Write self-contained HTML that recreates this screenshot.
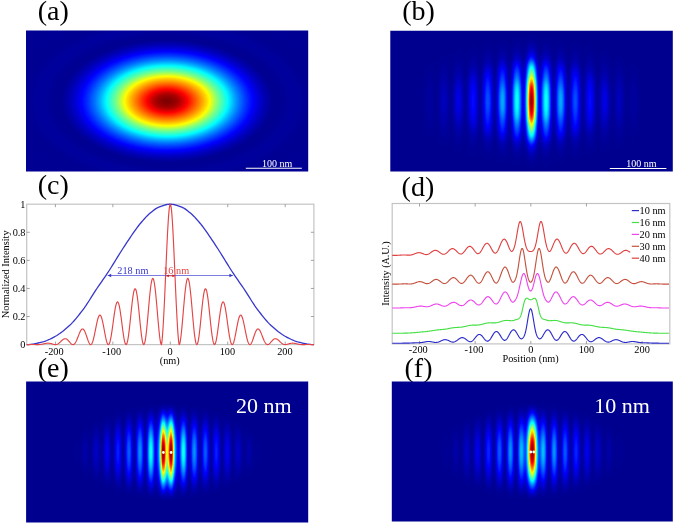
<!DOCTYPE html>
<html><head><meta charset="utf-8"><title>figure</title>
<style>html,body{margin:0;padding:0;background:#fff}svg{display:block}text{font-family:"Liberation Serif",serif}</style></head>
<body>
<svg width="675" height="525" viewBox="0 0 675 525">
<defs>
<filter id="jet" x="0" y="0" width="1" height="1" filterUnits="objectBoundingBox" color-interpolation-filters="sRGB"><feComponentTransfer><feFuncR type="table" tableValues="0 0 0 0 0 0 0 0 0 0 0 0 0 0 0 0 0 0 0 0 0 0 0 0 0.0625 0.125 0.1875 0.25 0.3125 0.375 0.4375 0.5 0.5625 0.625 0.6875 0.75 0.8125 0.875 0.9375 1 1 1 1 1 1 1 1 1 1 1 1 1 1 1 1 1 0.9375 0.875 0.8125 0.75 0.6875 0.625 0.5625 0.5"/><feFuncG type="table" tableValues="0 0 0 0 0 0 0 0 0.0625 0.125 0.1875 0.25 0.3125 0.375 0.4375 0.5 0.5625 0.625 0.6875 0.75 0.8125 0.875 0.9375 1 1 1 1 1 1 1 1 1 1 1 1 1 1 1 1 1 0.9375 0.875 0.8125 0.75 0.6875 0.625 0.5625 0.5 0.4375 0.375 0.3125 0.25 0.1875 0.125 0.0625 0 0 0 0 0 0 0 0 0"/><feFuncB type="table" tableValues="0.5625 0.625 0.6875 0.75 0.8125 0.875 0.9375 1 1 1 1 1 1 1 1 1 1 1 1 1 1 1 1 1 0.9375 0.875 0.8125 0.75 0.6875 0.625 0.5625 0.5 0.4375 0.375 0.3125 0.25 0.1875 0.125 0.0625 0 0 0 0 0 0 0 0 0 0 0 0 0 0 0 0 0 0 0 0 0 0 0 0 0"/></feComponentTransfer></filter>
<linearGradient id="gxa" gradientUnits="userSpaceOnUse" x1="26" y1="0" x2="308.2" y2="0"><stop offset="0%" stop-color="#ffffff"/><stop offset="100%" stop-color="#ffffff"/></linearGradient>
<radialGradient id="gra" gradientUnits="userSpaceOnUse" cx="0" cy="0" r="170" gradientTransform="translate(167.1 101.1) scale(1 0.58)"><stop offset="0%" stop-color="#000" stop-opacity="0"/><stop offset="0.59%" stop-color="#000" stop-opacity="0"/><stop offset="1.18%" stop-color="#000" stop-opacity="0.002"/><stop offset="1.76%" stop-color="#000" stop-opacity="0.004"/><stop offset="2.35%" stop-color="#000" stop-opacity="0.007"/><stop offset="2.94%" stop-color="#000" stop-opacity="0.01"/><stop offset="3.53%" stop-color="#000" stop-opacity="0.014"/><stop offset="4.12%" stop-color="#000" stop-opacity="0.018"/><stop offset="4.71%" stop-color="#000" stop-opacity="0.023"/><stop offset="5.29%" stop-color="#000" stop-opacity="0.027"/><stop offset="5.88%" stop-color="#000" stop-opacity="0.032"/><stop offset="6.47%" stop-color="#000" stop-opacity="0.038"/><stop offset="7.06%" stop-color="#000" stop-opacity="0.045"/><stop offset="7.65%" stop-color="#000" stop-opacity="0.053"/><stop offset="8.24%" stop-color="#000" stop-opacity="0.063"/><stop offset="8.82%" stop-color="#000" stop-opacity="0.073"/><stop offset="9.41%" stop-color="#000" stop-opacity="0.083"/><stop offset="10%" stop-color="#000" stop-opacity="0.094"/><stop offset="10.59%" stop-color="#000" stop-opacity="0.105"/><stop offset="11.18%" stop-color="#000" stop-opacity="0.115"/><stop offset="11.76%" stop-color="#000" stop-opacity="0.125"/><stop offset="12.35%" stop-color="#000" stop-opacity="0.135"/><stop offset="12.94%" stop-color="#000" stop-opacity="0.146"/><stop offset="13.53%" stop-color="#000" stop-opacity="0.157"/><stop offset="14.12%" stop-color="#000" stop-opacity="0.168"/><stop offset="14.71%" stop-color="#000" stop-opacity="0.179"/><stop offset="15.29%" stop-color="#000" stop-opacity="0.19"/><stop offset="15.88%" stop-color="#000" stop-opacity="0.201"/><stop offset="16.47%" stop-color="#000" stop-opacity="0.212"/><stop offset="17.06%" stop-color="#000" stop-opacity="0.224"/><stop offset="17.65%" stop-color="#000" stop-opacity="0.235"/><stop offset="18.24%" stop-color="#000" stop-opacity="0.246"/><stop offset="18.82%" stop-color="#000" stop-opacity="0.257"/><stop offset="19.41%" stop-color="#000" stop-opacity="0.268"/><stop offset="20%" stop-color="#000" stop-opacity="0.279"/><stop offset="20.59%" stop-color="#000" stop-opacity="0.29"/><stop offset="21.18%" stop-color="#000" stop-opacity="0.302"/><stop offset="21.76%" stop-color="#000" stop-opacity="0.313"/><stop offset="22.35%" stop-color="#000" stop-opacity="0.325"/><stop offset="22.94%" stop-color="#000" stop-opacity="0.337"/><stop offset="23.53%" stop-color="#000" stop-opacity="0.349"/><stop offset="24.12%" stop-color="#000" stop-opacity="0.362"/><stop offset="24.71%" stop-color="#000" stop-opacity="0.375"/><stop offset="25.29%" stop-color="#000" stop-opacity="0.389"/><stop offset="25.88%" stop-color="#000" stop-opacity="0.404"/><stop offset="26.47%" stop-color="#000" stop-opacity="0.421"/><stop offset="27.06%" stop-color="#000" stop-opacity="0.437"/><stop offset="27.65%" stop-color="#000" stop-opacity="0.454"/><stop offset="28.24%" stop-color="#000" stop-opacity="0.47"/><stop offset="28.82%" stop-color="#000" stop-opacity="0.485"/><stop offset="29.41%" stop-color="#000" stop-opacity="0.5"/><stop offset="30%" stop-color="#000" stop-opacity="0.514"/><stop offset="30.59%" stop-color="#000" stop-opacity="0.527"/><stop offset="31.18%" stop-color="#000" stop-opacity="0.54"/><stop offset="31.76%" stop-color="#000" stop-opacity="0.552"/><stop offset="32.35%" stop-color="#000" stop-opacity="0.564"/><stop offset="32.94%" stop-color="#000" stop-opacity="0.576"/><stop offset="33.53%" stop-color="#000" stop-opacity="0.588"/><stop offset="34.12%" stop-color="#000" stop-opacity="0.6"/><stop offset="34.71%" stop-color="#000" stop-opacity="0.613"/><stop offset="35.29%" stop-color="#000" stop-opacity="0.625"/><stop offset="35.88%" stop-color="#000" stop-opacity="0.638"/><stop offset="36.47%" stop-color="#000" stop-opacity="0.651"/><stop offset="37.06%" stop-color="#000" stop-opacity="0.664"/><stop offset="37.65%" stop-color="#000" stop-opacity="0.677"/><stop offset="38.24%" stop-color="#000" stop-opacity="0.69"/><stop offset="38.82%" stop-color="#000" stop-opacity="0.703"/><stop offset="39.41%" stop-color="#000" stop-opacity="0.715"/><stop offset="40%" stop-color="#000" stop-opacity="0.727"/><stop offset="40.59%" stop-color="#000" stop-opacity="0.739"/><stop offset="41.18%" stop-color="#000" stop-opacity="0.75"/><stop offset="41.76%" stop-color="#000" stop-opacity="0.76"/><stop offset="42.35%" stop-color="#000" stop-opacity="0.771"/><stop offset="42.94%" stop-color="#000" stop-opacity="0.781"/><stop offset="43.53%" stop-color="#000" stop-opacity="0.791"/><stop offset="44.12%" stop-color="#000" stop-opacity="0.8"/><stop offset="44.71%" stop-color="#000" stop-opacity="0.81"/><stop offset="45.29%" stop-color="#000" stop-opacity="0.819"/><stop offset="45.88%" stop-color="#000" stop-opacity="0.828"/><stop offset="46.47%" stop-color="#000" stop-opacity="0.837"/><stop offset="47.06%" stop-color="#000" stop-opacity="0.845"/><stop offset="47.65%" stop-color="#000" stop-opacity="0.854"/><stop offset="48.24%" stop-color="#000" stop-opacity="0.862"/><stop offset="48.82%" stop-color="#000" stop-opacity="0.87"/><stop offset="49.41%" stop-color="#000" stop-opacity="0.877"/><stop offset="50%" stop-color="#000" stop-opacity="0.885"/><stop offset="50.59%" stop-color="#000" stop-opacity="0.892"/><stop offset="51.18%" stop-color="#000" stop-opacity="0.9"/><stop offset="51.76%" stop-color="#000" stop-opacity="0.907"/><stop offset="52.35%" stop-color="#000" stop-opacity="0.914"/><stop offset="52.94%" stop-color="#000" stop-opacity="0.921"/><stop offset="53.53%" stop-color="#000" stop-opacity="0.928"/><stop offset="54.12%" stop-color="#000" stop-opacity="0.935"/><stop offset="54.71%" stop-color="#000" stop-opacity="0.941"/><stop offset="55.29%" stop-color="#000" stop-opacity="0.947"/><stop offset="55.88%" stop-color="#000" stop-opacity="0.952"/><stop offset="56.47%" stop-color="#000" stop-opacity="0.957"/><stop offset="57.06%" stop-color="#000" stop-opacity="0.962"/><stop offset="57.65%" stop-color="#000" stop-opacity="0.966"/><stop offset="58.24%" stop-color="#000" stop-opacity="0.971"/><stop offset="58.82%" stop-color="#000" stop-opacity="0.975"/><stop offset="59.41%" stop-color="#000" stop-opacity="0.98"/><stop offset="60%" stop-color="#000" stop-opacity="0.984"/><stop offset="60.59%" stop-color="#000" stop-opacity="0.988"/><stop offset="61.18%" stop-color="#000" stop-opacity="0.991"/><stop offset="61.76%" stop-color="#000" stop-opacity="0.994"/><stop offset="62.35%" stop-color="#000" stop-opacity="0.996"/><stop offset="62.94%" stop-color="#000" stop-opacity="0.998"/><stop offset="64.71%" stop-color="#000" stop-opacity="0.998"/><stop offset="65.29%" stop-color="#000" stop-opacity="0.997"/><stop offset="65.88%" stop-color="#000" stop-opacity="0.996"/><stop offset="66.47%" stop-color="#000" stop-opacity="0.996"/><stop offset="67.06%" stop-color="#000" stop-opacity="0.995"/><stop offset="67.65%" stop-color="#000" stop-opacity="0.994"/><stop offset="68.24%" stop-color="#000" stop-opacity="0.993"/><stop offset="68.82%" stop-color="#000" stop-opacity="0.993"/><stop offset="69.41%" stop-color="#000" stop-opacity="0.992"/><stop offset="70%" stop-color="#000" stop-opacity="0.991"/><stop offset="70.59%" stop-color="#000" stop-opacity="0.99"/><stop offset="71.18%" stop-color="#000" stop-opacity="0.99"/><stop offset="71.76%" stop-color="#000" stop-opacity="0.989"/><stop offset="72.35%" stop-color="#000" stop-opacity="0.988"/><stop offset="72.94%" stop-color="#000" stop-opacity="0.987"/><stop offset="73.53%" stop-color="#000" stop-opacity="0.987"/><stop offset="74.12%" stop-color="#000" stop-opacity="0.986"/><stop offset="75.29%" stop-color="#000" stop-opacity="0.986"/><stop offset="75.88%" stop-color="#000" stop-opacity="0.987"/><stop offset="76.47%" stop-color="#000" stop-opacity="0.987"/><stop offset="77.06%" stop-color="#000" stop-opacity="0.988"/><stop offset="77.65%" stop-color="#000" stop-opacity="0.989"/><stop offset="78.24%" stop-color="#000" stop-opacity="0.99"/><stop offset="78.82%" stop-color="#000" stop-opacity="0.99"/><stop offset="79.41%" stop-color="#000" stop-opacity="0.991"/><stop offset="80%" stop-color="#000" stop-opacity="0.992"/><stop offset="80.59%" stop-color="#000" stop-opacity="0.993"/><stop offset="81.18%" stop-color="#000" stop-opacity="0.993"/><stop offset="81.76%" stop-color="#000" stop-opacity="0.994"/><stop offset="82.35%" stop-color="#000" stop-opacity="0.995"/><stop offset="82.94%" stop-color="#000" stop-opacity="0.996"/><stop offset="83.53%" stop-color="#000" stop-opacity="0.996"/><stop offset="84.12%" stop-color="#000" stop-opacity="0.997"/><stop offset="84.71%" stop-color="#000" stop-opacity="0.998"/><stop offset="87.65%" stop-color="#000" stop-opacity="0.998"/><stop offset="88.24%" stop-color="#000" stop-opacity="0.997"/><stop offset="90%" stop-color="#000" stop-opacity="0.997"/><stop offset="90.59%" stop-color="#000" stop-opacity="0.996"/><stop offset="91.76%" stop-color="#000" stop-opacity="0.996"/><stop offset="92.35%" stop-color="#000" stop-opacity="0.995"/><stop offset="98.24%" stop-color="#000" stop-opacity="0.995"/><stop offset="98.82%" stop-color="#000" stop-opacity="0.996"/><stop offset="100%" stop-color="#000" stop-opacity="0.996"/></radialGradient>
<clipPath id="cpa"><rect x="26" y="30.6" width="282.2" height="141"/></clipPath>
<linearGradient id="gxb" gradientUnits="userSpaceOnUse" x1="390.3" y1="0" x2="672.8" y2="0"><stop offset="0%" stop-color="#000000"/><stop offset="8.32%" stop-color="#000000"/><stop offset="8.5%" stop-color="#010101"/><stop offset="8.67%" stop-color="#020202"/><stop offset="8.85%" stop-color="#040404"/><stop offset="9.03%" stop-color="#060606"/><stop offset="9.2%" stop-color="#080808"/><stop offset="9.38%" stop-color="#090909"/><stop offset="9.56%" stop-color="#0a0a0a"/><stop offset="9.73%" stop-color="#0b0b0b"/><stop offset="9.91%" stop-color="#0a0a0a"/><stop offset="10.09%" stop-color="#090909"/><stop offset="10.27%" stop-color="#080808"/><stop offset="10.44%" stop-color="#070707"/><stop offset="10.62%" stop-color="#060606"/><stop offset="10.8%" stop-color="#050505"/><stop offset="10.97%" stop-color="#050505"/><stop offset="11.15%" stop-color="#060606"/><stop offset="11.33%" stop-color="#080808"/><stop offset="11.5%" stop-color="#0b0b0b"/><stop offset="11.68%" stop-color="#0f0f0f"/><stop offset="11.86%" stop-color="#141414"/><stop offset="12.04%" stop-color="#1b1b1b"/><stop offset="12.21%" stop-color="#222222"/><stop offset="12.39%" stop-color="#292929"/><stop offset="12.57%" stop-color="#313131"/><stop offset="12.74%" stop-color="#383838"/><stop offset="12.92%" stop-color="#3e3e3e"/><stop offset="13.1%" stop-color="#444444"/><stop offset="13.27%" stop-color="#484848"/><stop offset="13.45%" stop-color="#4b4b4b"/><stop offset="13.63%" stop-color="#4c4c4c"/><stop offset="13.81%" stop-color="#4c4c4c"/><stop offset="13.98%" stop-color="#4a4a4a"/><stop offset="14.16%" stop-color="#474747"/><stop offset="14.34%" stop-color="#424242"/><stop offset="14.51%" stop-color="#3c3c3c"/><stop offset="14.69%" stop-color="#353535"/><stop offset="14.87%" stop-color="#2e2e2e"/><stop offset="15.04%" stop-color="#272727"/><stop offset="15.22%" stop-color="#1f1f1f"/><stop offset="15.4%" stop-color="#191919"/><stop offset="15.58%" stop-color="#131313"/><stop offset="15.75%" stop-color="#0e0e0e"/><stop offset="15.93%" stop-color="#0b0b0b"/><stop offset="16.11%" stop-color="#0a0a0a"/><stop offset="16.28%" stop-color="#0a0a0a"/><stop offset="16.46%" stop-color="#0c0c0c"/><stop offset="16.64%" stop-color="#101010"/><stop offset="16.81%" stop-color="#151515"/><stop offset="16.99%" stop-color="#1b1b1b"/><stop offset="17.17%" stop-color="#232323"/><stop offset="17.35%" stop-color="#2b2b2b"/><stop offset="17.52%" stop-color="#343434"/><stop offset="17.7%" stop-color="#3c3c3c"/><stop offset="17.88%" stop-color="#444444"/><stop offset="18.05%" stop-color="#4b4b4b"/><stop offset="18.23%" stop-color="#515151"/><stop offset="18.41%" stop-color="#565656"/><stop offset="18.58%" stop-color="#585858"/><stop offset="18.76%" stop-color="#595959"/><stop offset="18.94%" stop-color="#585858"/><stop offset="19.12%" stop-color="#555555"/><stop offset="19.29%" stop-color="#505050"/><stop offset="19.47%" stop-color="#4a4a4a"/><stop offset="19.65%" stop-color="#434343"/><stop offset="19.82%" stop-color="#3b3b3b"/><stop offset="20%" stop-color="#333333"/><stop offset="20.18%" stop-color="#2a2a2a"/><stop offset="20.35%" stop-color="#222222"/><stop offset="20.53%" stop-color="#1b1b1b"/><stop offset="20.71%" stop-color="#141414"/><stop offset="20.88%" stop-color="#0f0f0f"/><stop offset="21.06%" stop-color="#0b0b0b"/><stop offset="21.24%" stop-color="#090909"/><stop offset="21.42%" stop-color="#090909"/><stop offset="21.59%" stop-color="#0a0a0a"/><stop offset="21.77%" stop-color="#0c0c0c"/><stop offset="21.95%" stop-color="#101010"/><stop offset="22.12%" stop-color="#151515"/><stop offset="22.3%" stop-color="#1b1b1b"/><stop offset="22.48%" stop-color="#222222"/><stop offset="22.65%" stop-color="#292929"/><stop offset="22.83%" stop-color="#2f2f2f"/><stop offset="23.01%" stop-color="#363636"/><stop offset="23.19%" stop-color="#3b3b3b"/><stop offset="23.36%" stop-color="#404040"/><stop offset="23.54%" stop-color="#444444"/><stop offset="23.72%" stop-color="#464646"/><stop offset="23.89%" stop-color="#474747"/><stop offset="24.07%" stop-color="#464646"/><stop offset="24.25%" stop-color="#444444"/><stop offset="24.42%" stop-color="#414141"/><stop offset="24.6%" stop-color="#3d3d3d"/><stop offset="24.78%" stop-color="#373737"/><stop offset="24.96%" stop-color="#313131"/><stop offset="25.13%" stop-color="#2b2b2b"/><stop offset="25.31%" stop-color="#242424"/><stop offset="25.49%" stop-color="#1e1e1e"/><stop offset="25.66%" stop-color="#181818"/><stop offset="25.84%" stop-color="#121212"/><stop offset="26.02%" stop-color="#0e0e0e"/><stop offset="26.19%" stop-color="#0a0a0a"/><stop offset="26.37%" stop-color="#080808"/><stop offset="26.55%" stop-color="#070707"/><stop offset="26.73%" stop-color="#080808"/><stop offset="26.9%" stop-color="#090909"/><stop offset="27.08%" stop-color="#0c0c0c"/><stop offset="27.26%" stop-color="#101010"/><stop offset="27.43%" stop-color="#151515"/><stop offset="27.61%" stop-color="#1a1a1a"/><stop offset="27.79%" stop-color="#202020"/><stop offset="27.96%" stop-color="#262626"/><stop offset="28.14%" stop-color="#2c2c2c"/><stop offset="28.32%" stop-color="#313131"/><stop offset="28.5%" stop-color="#363636"/><stop offset="28.67%" stop-color="#3a3a3a"/><stop offset="28.85%" stop-color="#3d3d3d"/><stop offset="29.03%" stop-color="#3f3f3f"/><stop offset="29.38%" stop-color="#3f3f3f"/><stop offset="29.56%" stop-color="#3d3d3d"/><stop offset="29.73%" stop-color="#3a3a3a"/><stop offset="29.91%" stop-color="#363636"/><stop offset="30.09%" stop-color="#313131"/><stop offset="30.27%" stop-color="#2b2b2b"/><stop offset="30.44%" stop-color="#262626"/><stop offset="30.62%" stop-color="#202020"/><stop offset="30.8%" stop-color="#1a1a1a"/><stop offset="30.97%" stop-color="#141414"/><stop offset="31.15%" stop-color="#101010"/><stop offset="31.33%" stop-color="#0c0c0c"/><stop offset="31.5%" stop-color="#090909"/><stop offset="31.68%" stop-color="#080808"/><stop offset="31.86%" stop-color="#080808"/><stop offset="32.04%" stop-color="#090909"/><stop offset="32.21%" stop-color="#0b0b0b"/><stop offset="32.39%" stop-color="#0f0f0f"/><stop offset="32.57%" stop-color="#141414"/><stop offset="32.74%" stop-color="#1a1a1a"/><stop offset="32.92%" stop-color="#212121"/><stop offset="33.1%" stop-color="#282828"/><stop offset="33.27%" stop-color="#2e2e2e"/><stop offset="33.45%" stop-color="#353535"/><stop offset="33.63%" stop-color="#3b3b3b"/><stop offset="33.81%" stop-color="#404040"/><stop offset="33.98%" stop-color="#454545"/><stop offset="34.16%" stop-color="#474747"/><stop offset="34.34%" stop-color="#494949"/><stop offset="34.51%" stop-color="#494949"/><stop offset="34.69%" stop-color="#474747"/><stop offset="34.87%" stop-color="#444444"/><stop offset="35.04%" stop-color="#404040"/><stop offset="35.22%" stop-color="#3b3b3b"/><stop offset="35.4%" stop-color="#353535"/><stop offset="35.58%" stop-color="#2e2e2e"/><stop offset="35.75%" stop-color="#272727"/><stop offset="35.93%" stop-color="#202020"/><stop offset="36.11%" stop-color="#1a1a1a"/><stop offset="36.28%" stop-color="#141414"/><stop offset="36.46%" stop-color="#0f0f0f"/><stop offset="36.64%" stop-color="#0b0b0b"/><stop offset="36.81%" stop-color="#090909"/><stop offset="36.99%" stop-color="#080808"/><stop offset="37.17%" stop-color="#090909"/><stop offset="37.35%" stop-color="#0c0c0c"/><stop offset="37.52%" stop-color="#0f0f0f"/><stop offset="37.7%" stop-color="#141414"/><stop offset="37.88%" stop-color="#1b1b1b"/><stop offset="38.05%" stop-color="#222222"/><stop offset="38.23%" stop-color="#292929"/><stop offset="38.41%" stop-color="#313131"/><stop offset="38.58%" stop-color="#393939"/><stop offset="38.76%" stop-color="#404040"/><stop offset="38.94%" stop-color="#464646"/><stop offset="39.12%" stop-color="#4c4c4c"/><stop offset="39.29%" stop-color="#505050"/><stop offset="39.47%" stop-color="#525252"/><stop offset="39.65%" stop-color="#535353"/><stop offset="39.82%" stop-color="#525252"/><stop offset="40%" stop-color="#505050"/><stop offset="40.18%" stop-color="#4c4c4c"/><stop offset="40.35%" stop-color="#474747"/><stop offset="40.53%" stop-color="#404040"/><stop offset="40.71%" stop-color="#393939"/><stop offset="40.88%" stop-color="#313131"/><stop offset="41.06%" stop-color="#292929"/><stop offset="41.24%" stop-color="#212121"/><stop offset="41.42%" stop-color="#1a1a1a"/><stop offset="41.59%" stop-color="#141414"/><stop offset="41.77%" stop-color="#0f0f0f"/><stop offset="41.95%" stop-color="#0c0c0c"/><stop offset="42.12%" stop-color="#0a0a0a"/><stop offset="42.3%" stop-color="#0b0b0b"/><stop offset="42.48%" stop-color="#0d0d0d"/><stop offset="42.65%" stop-color="#111111"/><stop offset="42.83%" stop-color="#171717"/><stop offset="43.01%" stop-color="#1e1e1e"/><stop offset="43.19%" stop-color="#262626"/><stop offset="43.36%" stop-color="#2f2f2f"/><stop offset="43.54%" stop-color="#393939"/><stop offset="43.72%" stop-color="#434343"/><stop offset="43.89%" stop-color="#4c4c4c"/><stop offset="44.07%" stop-color="#545454"/><stop offset="44.25%" stop-color="#5b5b5b"/><stop offset="44.42%" stop-color="#606060"/><stop offset="44.6%" stop-color="#646464"/><stop offset="44.78%" stop-color="#656565"/><stop offset="44.96%" stop-color="#646464"/><stop offset="45.13%" stop-color="#626262"/><stop offset="45.31%" stop-color="#5d5d5d"/><stop offset="45.49%" stop-color="#575757"/><stop offset="45.66%" stop-color="#4f4f4f"/><stop offset="45.84%" stop-color="#474747"/><stop offset="46.02%" stop-color="#3e3e3e"/><stop offset="46.19%" stop-color="#353535"/><stop offset="46.37%" stop-color="#2c2c2c"/><stop offset="46.55%" stop-color="#242424"/><stop offset="46.73%" stop-color="#1e1e1e"/><stop offset="46.9%" stop-color="#1a1a1a"/><stop offset="47.08%" stop-color="#181818"/><stop offset="47.26%" stop-color="#191919"/><stop offset="47.43%" stop-color="#1e1e1e"/><stop offset="47.61%" stop-color="#252525"/><stop offset="47.79%" stop-color="#303030"/><stop offset="47.96%" stop-color="#3d3d3d"/><stop offset="48.14%" stop-color="#4e4e4e"/><stop offset="48.32%" stop-color="#616161"/><stop offset="48.5%" stop-color="#777777"/><stop offset="48.67%" stop-color="#8d8d8d"/><stop offset="48.85%" stop-color="#a3a3a3"/><stop offset="49.03%" stop-color="#b9b9b9"/><stop offset="49.2%" stop-color="#cdcdcd"/><stop offset="49.38%" stop-color="#dfdfdf"/><stop offset="49.56%" stop-color="#ededed"/><stop offset="49.73%" stop-color="#f7f7f7"/><stop offset="49.91%" stop-color="#fcfcfc"/><stop offset="50.09%" stop-color="#fcfcfc"/><stop offset="50.27%" stop-color="#f7f7f7"/><stop offset="50.44%" stop-color="#ededed"/><stop offset="50.62%" stop-color="#dfdfdf"/><stop offset="50.8%" stop-color="#cdcdcd"/><stop offset="50.97%" stop-color="#b9b9b9"/><stop offset="51.15%" stop-color="#a3a3a3"/><stop offset="51.33%" stop-color="#8d8d8d"/><stop offset="51.5%" stop-color="#777777"/><stop offset="51.68%" stop-color="#616161"/><stop offset="51.86%" stop-color="#4e4e4e"/><stop offset="52.04%" stop-color="#3d3d3d"/><stop offset="52.21%" stop-color="#303030"/><stop offset="52.39%" stop-color="#252525"/><stop offset="52.57%" stop-color="#1e1e1e"/><stop offset="52.74%" stop-color="#191919"/><stop offset="52.92%" stop-color="#181818"/><stop offset="53.1%" stop-color="#1a1a1a"/><stop offset="53.27%" stop-color="#1e1e1e"/><stop offset="53.45%" stop-color="#242424"/><stop offset="53.63%" stop-color="#2c2c2c"/><stop offset="53.81%" stop-color="#353535"/><stop offset="53.98%" stop-color="#3e3e3e"/><stop offset="54.16%" stop-color="#474747"/><stop offset="54.34%" stop-color="#4f4f4f"/><stop offset="54.51%" stop-color="#575757"/><stop offset="54.69%" stop-color="#5d5d5d"/><stop offset="54.87%" stop-color="#626262"/><stop offset="55.04%" stop-color="#646464"/><stop offset="55.22%" stop-color="#656565"/><stop offset="55.4%" stop-color="#646464"/><stop offset="55.58%" stop-color="#606060"/><stop offset="55.75%" stop-color="#5b5b5b"/><stop offset="55.93%" stop-color="#545454"/><stop offset="56.11%" stop-color="#4c4c4c"/><stop offset="56.28%" stop-color="#434343"/><stop offset="56.46%" stop-color="#393939"/><stop offset="56.64%" stop-color="#2f2f2f"/><stop offset="56.81%" stop-color="#262626"/><stop offset="56.99%" stop-color="#1e1e1e"/><stop offset="57.17%" stop-color="#171717"/><stop offset="57.35%" stop-color="#111111"/><stop offset="57.52%" stop-color="#0d0d0d"/><stop offset="57.7%" stop-color="#0b0b0b"/><stop offset="57.88%" stop-color="#0a0a0a"/><stop offset="58.05%" stop-color="#0c0c0c"/><stop offset="58.23%" stop-color="#0f0f0f"/><stop offset="58.41%" stop-color="#141414"/><stop offset="58.58%" stop-color="#1a1a1a"/><stop offset="58.76%" stop-color="#212121"/><stop offset="58.94%" stop-color="#292929"/><stop offset="59.12%" stop-color="#313131"/><stop offset="59.29%" stop-color="#393939"/><stop offset="59.47%" stop-color="#404040"/><stop offset="59.65%" stop-color="#474747"/><stop offset="59.82%" stop-color="#4c4c4c"/><stop offset="60%" stop-color="#505050"/><stop offset="60.18%" stop-color="#525252"/><stop offset="60.35%" stop-color="#535353"/><stop offset="60.53%" stop-color="#525252"/><stop offset="60.71%" stop-color="#505050"/><stop offset="60.88%" stop-color="#4c4c4c"/><stop offset="61.06%" stop-color="#464646"/><stop offset="61.24%" stop-color="#404040"/><stop offset="61.42%" stop-color="#393939"/><stop offset="61.59%" stop-color="#313131"/><stop offset="61.77%" stop-color="#292929"/><stop offset="61.95%" stop-color="#222222"/><stop offset="62.12%" stop-color="#1b1b1b"/><stop offset="62.3%" stop-color="#141414"/><stop offset="62.48%" stop-color="#0f0f0f"/><stop offset="62.65%" stop-color="#0c0c0c"/><stop offset="62.83%" stop-color="#090909"/><stop offset="63.01%" stop-color="#080808"/><stop offset="63.19%" stop-color="#090909"/><stop offset="63.36%" stop-color="#0b0b0b"/><stop offset="63.54%" stop-color="#0f0f0f"/><stop offset="63.72%" stop-color="#141414"/><stop offset="63.89%" stop-color="#1a1a1a"/><stop offset="64.07%" stop-color="#202020"/><stop offset="64.25%" stop-color="#272727"/><stop offset="64.42%" stop-color="#2e2e2e"/><stop offset="64.6%" stop-color="#353535"/><stop offset="64.78%" stop-color="#3b3b3b"/><stop offset="64.96%" stop-color="#404040"/><stop offset="65.13%" stop-color="#444444"/><stop offset="65.31%" stop-color="#474747"/><stop offset="65.49%" stop-color="#494949"/><stop offset="65.66%" stop-color="#494949"/><stop offset="65.84%" stop-color="#474747"/><stop offset="66.02%" stop-color="#454545"/><stop offset="66.19%" stop-color="#404040"/><stop offset="66.37%" stop-color="#3b3b3b"/><stop offset="66.55%" stop-color="#353535"/><stop offset="66.73%" stop-color="#2e2e2e"/><stop offset="66.9%" stop-color="#282828"/><stop offset="67.08%" stop-color="#212121"/><stop offset="67.26%" stop-color="#1a1a1a"/><stop offset="67.43%" stop-color="#141414"/><stop offset="67.61%" stop-color="#0f0f0f"/><stop offset="67.79%" stop-color="#0b0b0b"/><stop offset="67.96%" stop-color="#090909"/><stop offset="68.14%" stop-color="#080808"/><stop offset="68.32%" stop-color="#080808"/><stop offset="68.5%" stop-color="#090909"/><stop offset="68.67%" stop-color="#0c0c0c"/><stop offset="68.85%" stop-color="#101010"/><stop offset="69.03%" stop-color="#141414"/><stop offset="69.2%" stop-color="#1a1a1a"/><stop offset="69.38%" stop-color="#202020"/><stop offset="69.56%" stop-color="#262626"/><stop offset="69.73%" stop-color="#2b2b2b"/><stop offset="69.91%" stop-color="#313131"/><stop offset="70.09%" stop-color="#363636"/><stop offset="70.27%" stop-color="#3a3a3a"/><stop offset="70.44%" stop-color="#3d3d3d"/><stop offset="70.62%" stop-color="#3f3f3f"/><stop offset="70.97%" stop-color="#3f3f3f"/><stop offset="71.15%" stop-color="#3d3d3d"/><stop offset="71.33%" stop-color="#3a3a3a"/><stop offset="71.5%" stop-color="#363636"/><stop offset="71.68%" stop-color="#313131"/><stop offset="71.86%" stop-color="#2c2c2c"/><stop offset="72.04%" stop-color="#262626"/><stop offset="72.21%" stop-color="#202020"/><stop offset="72.39%" stop-color="#1a1a1a"/><stop offset="72.57%" stop-color="#151515"/><stop offset="72.74%" stop-color="#101010"/><stop offset="72.92%" stop-color="#0c0c0c"/><stop offset="73.1%" stop-color="#090909"/><stop offset="73.27%" stop-color="#080808"/><stop offset="73.45%" stop-color="#070707"/><stop offset="73.63%" stop-color="#080808"/><stop offset="73.81%" stop-color="#0a0a0a"/><stop offset="73.98%" stop-color="#0e0e0e"/><stop offset="74.16%" stop-color="#121212"/><stop offset="74.34%" stop-color="#181818"/><stop offset="74.51%" stop-color="#1e1e1e"/><stop offset="74.69%" stop-color="#242424"/><stop offset="74.87%" stop-color="#2b2b2b"/><stop offset="75.04%" stop-color="#313131"/><stop offset="75.22%" stop-color="#373737"/><stop offset="75.4%" stop-color="#3d3d3d"/><stop offset="75.58%" stop-color="#414141"/><stop offset="75.75%" stop-color="#444444"/><stop offset="75.93%" stop-color="#464646"/><stop offset="76.11%" stop-color="#474747"/><stop offset="76.28%" stop-color="#464646"/><stop offset="76.46%" stop-color="#444444"/><stop offset="76.64%" stop-color="#404040"/><stop offset="76.81%" stop-color="#3b3b3b"/><stop offset="76.99%" stop-color="#363636"/><stop offset="77.17%" stop-color="#2f2f2f"/><stop offset="77.35%" stop-color="#292929"/><stop offset="77.52%" stop-color="#222222"/><stop offset="77.7%" stop-color="#1b1b1b"/><stop offset="77.88%" stop-color="#151515"/><stop offset="78.05%" stop-color="#101010"/><stop offset="78.23%" stop-color="#0c0c0c"/><stop offset="78.41%" stop-color="#0a0a0a"/><stop offset="78.58%" stop-color="#090909"/><stop offset="78.76%" stop-color="#090909"/><stop offset="78.94%" stop-color="#0b0b0b"/><stop offset="79.12%" stop-color="#0f0f0f"/><stop offset="79.29%" stop-color="#141414"/><stop offset="79.47%" stop-color="#1b1b1b"/><stop offset="79.65%" stop-color="#222222"/><stop offset="79.82%" stop-color="#2a2a2a"/><stop offset="80%" stop-color="#333333"/><stop offset="80.18%" stop-color="#3b3b3b"/><stop offset="80.35%" stop-color="#434343"/><stop offset="80.53%" stop-color="#4a4a4a"/><stop offset="80.71%" stop-color="#505050"/><stop offset="80.88%" stop-color="#555555"/><stop offset="81.06%" stop-color="#585858"/><stop offset="81.24%" stop-color="#595959"/><stop offset="81.42%" stop-color="#585858"/><stop offset="81.59%" stop-color="#565656"/><stop offset="81.77%" stop-color="#515151"/><stop offset="81.95%" stop-color="#4b4b4b"/><stop offset="82.12%" stop-color="#444444"/><stop offset="82.3%" stop-color="#3c3c3c"/><stop offset="82.48%" stop-color="#343434"/><stop offset="82.65%" stop-color="#2b2b2b"/><stop offset="82.83%" stop-color="#232323"/><stop offset="83.01%" stop-color="#1b1b1b"/><stop offset="83.19%" stop-color="#151515"/><stop offset="83.36%" stop-color="#101010"/><stop offset="83.54%" stop-color="#0c0c0c"/><stop offset="83.72%" stop-color="#0a0a0a"/><stop offset="83.89%" stop-color="#0a0a0a"/><stop offset="84.07%" stop-color="#0b0b0b"/><stop offset="84.25%" stop-color="#0e0e0e"/><stop offset="84.42%" stop-color="#131313"/><stop offset="84.6%" stop-color="#191919"/><stop offset="84.78%" stop-color="#1f1f1f"/><stop offset="84.96%" stop-color="#272727"/><stop offset="85.13%" stop-color="#2e2e2e"/><stop offset="85.31%" stop-color="#353535"/><stop offset="85.49%" stop-color="#3c3c3c"/><stop offset="85.66%" stop-color="#424242"/><stop offset="85.84%" stop-color="#474747"/><stop offset="86.02%" stop-color="#4a4a4a"/><stop offset="86.19%" stop-color="#4c4c4c"/><stop offset="86.37%" stop-color="#4c4c4c"/><stop offset="86.55%" stop-color="#4b4b4b"/><stop offset="86.73%" stop-color="#484848"/><stop offset="86.9%" stop-color="#444444"/><stop offset="87.08%" stop-color="#3e3e3e"/><stop offset="87.26%" stop-color="#383838"/><stop offset="87.43%" stop-color="#313131"/><stop offset="87.61%" stop-color="#292929"/><stop offset="87.79%" stop-color="#222222"/><stop offset="87.96%" stop-color="#1b1b1b"/><stop offset="88.14%" stop-color="#141414"/><stop offset="88.32%" stop-color="#0f0f0f"/><stop offset="88.5%" stop-color="#0b0b0b"/><stop offset="88.67%" stop-color="#080808"/><stop offset="88.85%" stop-color="#060606"/><stop offset="89.03%" stop-color="#050505"/><stop offset="89.2%" stop-color="#050505"/><stop offset="89.38%" stop-color="#060606"/><stop offset="89.56%" stop-color="#070707"/><stop offset="89.73%" stop-color="#080808"/><stop offset="89.91%" stop-color="#090909"/><stop offset="90.09%" stop-color="#0a0a0a"/><stop offset="90.27%" stop-color="#0b0b0b"/><stop offset="90.44%" stop-color="#0a0a0a"/><stop offset="90.62%" stop-color="#090909"/><stop offset="90.8%" stop-color="#080808"/><stop offset="90.97%" stop-color="#060606"/><stop offset="91.15%" stop-color="#040404"/><stop offset="91.33%" stop-color="#020202"/><stop offset="91.5%" stop-color="#010101"/><stop offset="91.68%" stop-color="#000000"/><stop offset="100%" stop-color="#000000"/></linearGradient>
<radialGradient id="grb" gradientUnits="userSpaceOnUse" cx="0" cy="0" r="150" gradientTransform="translate(531.55 101.2) scale(1 0.5)"><stop offset="0%" stop-color="#000" stop-opacity="0"/><stop offset="0.67%" stop-color="#000" stop-opacity="0"/><stop offset="1.33%" stop-color="#000" stop-opacity="0.001"/><stop offset="2%" stop-color="#000" stop-opacity="0.002"/><stop offset="2.67%" stop-color="#000" stop-opacity="0.004"/><stop offset="3.33%" stop-color="#000" stop-opacity="0.006"/><stop offset="4%" stop-color="#000" stop-opacity="0.009"/><stop offset="4.67%" stop-color="#000" stop-opacity="0.012"/><stop offset="5.33%" stop-color="#000" stop-opacity="0.015"/><stop offset="6%" stop-color="#000" stop-opacity="0.018"/><stop offset="6.67%" stop-color="#000" stop-opacity="0.022"/><stop offset="7.33%" stop-color="#000" stop-opacity="0.025"/><stop offset="8%" stop-color="#000" stop-opacity="0.029"/><stop offset="8.67%" stop-color="#000" stop-opacity="0.033"/><stop offset="9.33%" stop-color="#000" stop-opacity="0.037"/><stop offset="10%" stop-color="#000" stop-opacity="0.041"/><stop offset="10.67%" stop-color="#000" stop-opacity="0.046"/><stop offset="11.33%" stop-color="#000" stop-opacity="0.05"/><stop offset="12%" stop-color="#000" stop-opacity="0.055"/><stop offset="12.67%" stop-color="#000" stop-opacity="0.06"/><stop offset="13.33%" stop-color="#000" stop-opacity="0.066"/><stop offset="14%" stop-color="#000" stop-opacity="0.072"/><stop offset="14.67%" stop-color="#000" stop-opacity="0.079"/><stop offset="15.33%" stop-color="#000" stop-opacity="0.086"/><stop offset="16%" stop-color="#000" stop-opacity="0.093"/><stop offset="16.67%" stop-color="#000" stop-opacity="0.1"/><stop offset="17.33%" stop-color="#000" stop-opacity="0.108"/><stop offset="18%" stop-color="#000" stop-opacity="0.117"/><stop offset="18.67%" stop-color="#000" stop-opacity="0.125"/><stop offset="19.33%" stop-color="#000" stop-opacity="0.134"/><stop offset="20%" stop-color="#000" stop-opacity="0.143"/><stop offset="20.67%" stop-color="#000" stop-opacity="0.153"/><stop offset="21.33%" stop-color="#000" stop-opacity="0.163"/><stop offset="22%" stop-color="#000" stop-opacity="0.174"/><stop offset="22.67%" stop-color="#000" stop-opacity="0.187"/><stop offset="23.33%" stop-color="#000" stop-opacity="0.2"/><stop offset="24%" stop-color="#000" stop-opacity="0.214"/><stop offset="24.67%" stop-color="#000" stop-opacity="0.229"/><stop offset="25.33%" stop-color="#000" stop-opacity="0.244"/><stop offset="26%" stop-color="#000" stop-opacity="0.259"/><stop offset="26.67%" stop-color="#000" stop-opacity="0.275"/><stop offset="27.33%" stop-color="#000" stop-opacity="0.291"/><stop offset="28%" stop-color="#000" stop-opacity="0.306"/><stop offset="28.67%" stop-color="#000" stop-opacity="0.321"/><stop offset="29.33%" stop-color="#000" stop-opacity="0.336"/><stop offset="30%" stop-color="#000" stop-opacity="0.351"/><stop offset="30.67%" stop-color="#000" stop-opacity="0.365"/><stop offset="31.33%" stop-color="#000" stop-opacity="0.378"/><stop offset="32%" stop-color="#000" stop-opacity="0.39"/><stop offset="32.67%" stop-color="#000" stop-opacity="0.403"/><stop offset="33.33%" stop-color="#000" stop-opacity="0.415"/><stop offset="34%" stop-color="#000" stop-opacity="0.427"/><stop offset="34.67%" stop-color="#000" stop-opacity="0.439"/><stop offset="35.33%" stop-color="#000" stop-opacity="0.451"/><stop offset="36%" stop-color="#000" stop-opacity="0.462"/><stop offset="36.67%" stop-color="#000" stop-opacity="0.474"/><stop offset="37.33%" stop-color="#000" stop-opacity="0.485"/><stop offset="38%" stop-color="#000" stop-opacity="0.497"/><stop offset="38.67%" stop-color="#000" stop-opacity="0.508"/><stop offset="39.33%" stop-color="#000" stop-opacity="0.519"/><stop offset="40%" stop-color="#000" stop-opacity="0.531"/><stop offset="40.67%" stop-color="#000" stop-opacity="0.542"/><stop offset="41.33%" stop-color="#000" stop-opacity="0.553"/><stop offset="42%" stop-color="#000" stop-opacity="0.565"/><stop offset="42.67%" stop-color="#000" stop-opacity="0.576"/><stop offset="43.33%" stop-color="#000" stop-opacity="0.587"/><stop offset="44%" stop-color="#000" stop-opacity="0.599"/><stop offset="44.67%" stop-color="#000" stop-opacity="0.611"/><stop offset="45.33%" stop-color="#000" stop-opacity="0.623"/><stop offset="46%" stop-color="#000" stop-opacity="0.635"/><stop offset="46.67%" stop-color="#000" stop-opacity="0.647"/><stop offset="47.33%" stop-color="#000" stop-opacity="0.66"/><stop offset="48%" stop-color="#000" stop-opacity="0.673"/><stop offset="48.67%" stop-color="#000" stop-opacity="0.687"/><stop offset="49.33%" stop-color="#000" stop-opacity="0.701"/><stop offset="50%" stop-color="#000" stop-opacity="0.714"/><stop offset="50.67%" stop-color="#000" stop-opacity="0.728"/><stop offset="51.33%" stop-color="#000" stop-opacity="0.742"/><stop offset="52%" stop-color="#000" stop-opacity="0.756"/><stop offset="52.67%" stop-color="#000" stop-opacity="0.769"/><stop offset="53.33%" stop-color="#000" stop-opacity="0.783"/><stop offset="54%" stop-color="#000" stop-opacity="0.796"/><stop offset="54.67%" stop-color="#000" stop-opacity="0.808"/><stop offset="55.33%" stop-color="#000" stop-opacity="0.82"/><stop offset="56%" stop-color="#000" stop-opacity="0.832"/><stop offset="56.67%" stop-color="#000" stop-opacity="0.843"/><stop offset="57.33%" stop-color="#000" stop-opacity="0.853"/><stop offset="58%" stop-color="#000" stop-opacity="0.862"/><stop offset="58.67%" stop-color="#000" stop-opacity="0.871"/><stop offset="59.33%" stop-color="#000" stop-opacity="0.878"/><stop offset="60%" stop-color="#000" stop-opacity="0.885"/><stop offset="60.67%" stop-color="#000" stop-opacity="0.892"/><stop offset="61.33%" stop-color="#000" stop-opacity="0.898"/><stop offset="62%" stop-color="#000" stop-opacity="0.904"/><stop offset="62.67%" stop-color="#000" stop-opacity="0.91"/><stop offset="63.33%" stop-color="#000" stop-opacity="0.915"/><stop offset="64%" stop-color="#000" stop-opacity="0.92"/><stop offset="64.67%" stop-color="#000" stop-opacity="0.925"/><stop offset="65.33%" stop-color="#000" stop-opacity="0.93"/><stop offset="66%" stop-color="#000" stop-opacity="0.934"/><stop offset="66.67%" stop-color="#000" stop-opacity="0.939"/><stop offset="67.33%" stop-color="#000" stop-opacity="0.942"/><stop offset="68%" stop-color="#000" stop-opacity="0.946"/><stop offset="68.67%" stop-color="#000" stop-opacity="0.95"/><stop offset="69.33%" stop-color="#000" stop-opacity="0.953"/><stop offset="70%" stop-color="#000" stop-opacity="0.956"/><stop offset="70.67%" stop-color="#000" stop-opacity="0.959"/><stop offset="71.33%" stop-color="#000" stop-opacity="0.962"/><stop offset="72%" stop-color="#000" stop-opacity="0.965"/><stop offset="72.67%" stop-color="#000" stop-opacity="0.967"/><stop offset="73.33%" stop-color="#000" stop-opacity="0.97"/><stop offset="74%" stop-color="#000" stop-opacity="0.972"/><stop offset="74.67%" stop-color="#000" stop-opacity="0.974"/><stop offset="75.33%" stop-color="#000" stop-opacity="0.976"/><stop offset="76%" stop-color="#000" stop-opacity="0.978"/><stop offset="76.67%" stop-color="#000" stop-opacity="0.98"/><stop offset="77.33%" stop-color="#000" stop-opacity="0.982"/><stop offset="78%" stop-color="#000" stop-opacity="0.983"/><stop offset="78.67%" stop-color="#000" stop-opacity="0.985"/><stop offset="79.33%" stop-color="#000" stop-opacity="0.987"/><stop offset="80%" stop-color="#000" stop-opacity="0.988"/><stop offset="80.67%" stop-color="#000" stop-opacity="0.99"/><stop offset="81.33%" stop-color="#000" stop-opacity="0.991"/><stop offset="82%" stop-color="#000" stop-opacity="0.993"/><stop offset="82.67%" stop-color="#000" stop-opacity="0.994"/><stop offset="83.33%" stop-color="#000" stop-opacity="0.995"/><stop offset="84%" stop-color="#000" stop-opacity="0.995"/><stop offset="84.67%" stop-color="#000" stop-opacity="0.996"/><stop offset="85.33%" stop-color="#000" stop-opacity="0.997"/><stop offset="86%" stop-color="#000" stop-opacity="0.997"/><stop offset="86.67%" stop-color="#000" stop-opacity="0.998"/><stop offset="88%" stop-color="#000" stop-opacity="0.998"/><stop offset="88.67%" stop-color="#000" stop-opacity="0.999"/><stop offset="90%" stop-color="#000" stop-opacity="0.999"/><stop offset="90.67%" stop-color="#000" stop-opacity="1"/><stop offset="100%" stop-color="#000" stop-opacity="1"/></radialGradient>
<clipPath id="cpb"><rect x="390.3" y="30.8" width="282.5" height="140.8"/></clipPath>
<linearGradient id="gxe" gradientUnits="userSpaceOnUse" x1="26.1" y1="0" x2="308.2" y2="0"><stop offset="0%" stop-color="#000000"/><stop offset="10.99%" stop-color="#000000"/><stop offset="11.17%" stop-color="#020202"/><stop offset="11.35%" stop-color="#0b0b0b"/><stop offset="11.52%" stop-color="#252525"/><stop offset="11.7%" stop-color="#565656"/><stop offset="11.88%" stop-color="#757575"/><stop offset="12.06%" stop-color="#959595"/><stop offset="12.23%" stop-color="#b4b4b4"/><stop offset="12.41%" stop-color="#d1d1d1"/><stop offset="12.59%" stop-color="#e8e8e8"/><stop offset="12.77%" stop-color="#f8f8f8"/><stop offset="12.94%" stop-color="#ffffff"/><stop offset="13.12%" stop-color="#fdfdfd"/><stop offset="13.3%" stop-color="#f1f1f1"/><stop offset="13.48%" stop-color="#dedede"/><stop offset="13.65%" stop-color="#c5c5c5"/><stop offset="13.83%" stop-color="#a6a6a6"/><stop offset="14.01%" stop-color="#868686"/><stop offset="14.18%" stop-color="#676767"/><stop offset="14.36%" stop-color="#4a4a4a"/><stop offset="14.54%" stop-color="#333333"/><stop offset="14.72%" stop-color="#232323"/><stop offset="14.89%" stop-color="#1c1c1c"/><stop offset="15.07%" stop-color="#1f1f1f"/><stop offset="15.25%" stop-color="#2a2a2a"/><stop offset="15.43%" stop-color="#3d3d3d"/><stop offset="15.6%" stop-color="#575757"/><stop offset="15.78%" stop-color="#757575"/><stop offset="15.96%" stop-color="#959595"/><stop offset="16.13%" stop-color="#b5b5b5"/><stop offset="16.31%" stop-color="#d1d1d1"/><stop offset="16.49%" stop-color="#e8e8e8"/><stop offset="16.67%" stop-color="#f8f8f8"/><stop offset="16.84%" stop-color="#ffffff"/><stop offset="17.02%" stop-color="#fdfdfd"/><stop offset="17.2%" stop-color="#f1f1f1"/><stop offset="17.38%" stop-color="#dedede"/><stop offset="17.55%" stop-color="#c4c4c4"/><stop offset="17.73%" stop-color="#a6a6a6"/><stop offset="17.91%" stop-color="#868686"/><stop offset="18.09%" stop-color="#666666"/><stop offset="18.26%" stop-color="#494949"/><stop offset="18.44%" stop-color="#2e2e2e"/><stop offset="18.62%" stop-color="#1e1e1e"/><stop offset="18.79%" stop-color="#171717"/><stop offset="18.97%" stop-color="#171717"/><stop offset="19.15%" stop-color="#1e1e1e"/><stop offset="19.33%" stop-color="#292929"/><stop offset="19.5%" stop-color="#383838"/><stop offset="19.68%" stop-color="#494949"/><stop offset="19.86%" stop-color="#595959"/><stop offset="20.04%" stop-color="#686868"/><stop offset="20.21%" stop-color="#747474"/><stop offset="20.39%" stop-color="#7c7c7c"/><stop offset="20.57%" stop-color="#808080"/><stop offset="20.74%" stop-color="#808080"/><stop offset="20.92%" stop-color="#7b7b7b"/><stop offset="21.1%" stop-color="#727272"/><stop offset="21.28%" stop-color="#666666"/><stop offset="21.45%" stop-color="#585858"/><stop offset="21.63%" stop-color="#494949"/><stop offset="21.81%" stop-color="#3a3a3a"/><stop offset="21.99%" stop-color="#2b2b2b"/><stop offset="22.16%" stop-color="#1f1f1f"/><stop offset="22.34%" stop-color="#151515"/><stop offset="22.52%" stop-color="#0e0e0e"/><stop offset="22.7%" stop-color="#0b0b0b"/><stop offset="22.87%" stop-color="#0c0c0c"/><stop offset="23.05%" stop-color="#101010"/><stop offset="23.23%" stop-color="#181818"/><stop offset="23.4%" stop-color="#212121"/><stop offset="23.58%" stop-color="#2c2c2c"/><stop offset="23.76%" stop-color="#383838"/><stop offset="23.94%" stop-color="#434343"/><stop offset="24.11%" stop-color="#4d4d4d"/><stop offset="24.29%" stop-color="#545454"/><stop offset="24.47%" stop-color="#595959"/><stop offset="24.65%" stop-color="#5b5b5b"/><stop offset="24.82%" stop-color="#595959"/><stop offset="25%" stop-color="#545454"/><stop offset="25.18%" stop-color="#4d4d4d"/><stop offset="25.35%" stop-color="#434343"/><stop offset="25.53%" stop-color="#383838"/><stop offset="25.71%" stop-color="#2d2d2d"/><stop offset="25.89%" stop-color="#222222"/><stop offset="26.06%" stop-color="#181818"/><stop offset="26.24%" stop-color="#111111"/><stop offset="26.42%" stop-color="#0b0b0b"/><stop offset="26.6%" stop-color="#090909"/><stop offset="26.77%" stop-color="#0a0a0a"/><stop offset="26.95%" stop-color="#0d0d0d"/><stop offset="27.13%" stop-color="#131313"/><stop offset="27.3%" stop-color="#1b1b1b"/><stop offset="27.48%" stop-color="#252525"/><stop offset="27.66%" stop-color="#2f2f2f"/><stop offset="27.84%" stop-color="#383838"/><stop offset="28.01%" stop-color="#414141"/><stop offset="28.19%" stop-color="#474747"/><stop offset="28.37%" stop-color="#4c4c4c"/><stop offset="28.55%" stop-color="#4e4e4e"/><stop offset="28.72%" stop-color="#4d4d4d"/><stop offset="28.9%" stop-color="#494949"/><stop offset="29.08%" stop-color="#434343"/><stop offset="29.26%" stop-color="#3b3b3b"/><stop offset="29.43%" stop-color="#323232"/><stop offset="29.61%" stop-color="#282828"/><stop offset="29.79%" stop-color="#1e1e1e"/><stop offset="29.96%" stop-color="#161616"/><stop offset="30.14%" stop-color="#0f0f0f"/><stop offset="30.32%" stop-color="#0a0a0a"/><stop offset="30.5%" stop-color="#080808"/><stop offset="30.67%" stop-color="#090909"/><stop offset="30.85%" stop-color="#0d0d0d"/><stop offset="31.03%" stop-color="#121212"/><stop offset="31.21%" stop-color="#1a1a1a"/><stop offset="31.38%" stop-color="#232323"/><stop offset="31.56%" stop-color="#2d2d2d"/><stop offset="31.74%" stop-color="#363636"/><stop offset="31.91%" stop-color="#3e3e3e"/><stop offset="32.09%" stop-color="#454545"/><stop offset="32.27%" stop-color="#4a4a4a"/><stop offset="32.45%" stop-color="#4c4c4c"/><stop offset="32.62%" stop-color="#4b4b4b"/><stop offset="32.8%" stop-color="#484848"/><stop offset="32.98%" stop-color="#424242"/><stop offset="33.16%" stop-color="#3a3a3a"/><stop offset="33.33%" stop-color="#313131"/><stop offset="33.51%" stop-color="#282828"/><stop offset="33.69%" stop-color="#1f1f1f"/><stop offset="33.87%" stop-color="#161616"/><stop offset="34.04%" stop-color="#0f0f0f"/><stop offset="34.22%" stop-color="#0b0b0b"/><stop offset="34.4%" stop-color="#090909"/><stop offset="34.57%" stop-color="#090909"/><stop offset="34.75%" stop-color="#0d0d0d"/><stop offset="34.93%" stop-color="#131313"/><stop offset="35.11%" stop-color="#1b1b1b"/><stop offset="35.28%" stop-color="#242424"/><stop offset="35.46%" stop-color="#2e2e2e"/><stop offset="35.64%" stop-color="#383838"/><stop offset="35.82%" stop-color="#414141"/><stop offset="35.99%" stop-color="#484848"/><stop offset="36.17%" stop-color="#4d4d4d"/><stop offset="36.35%" stop-color="#4f4f4f"/><stop offset="36.52%" stop-color="#4e4e4e"/><stop offset="36.7%" stop-color="#4a4a4a"/><stop offset="36.88%" stop-color="#444444"/><stop offset="37.06%" stop-color="#3c3c3c"/><stop offset="37.23%" stop-color="#333333"/><stop offset="37.41%" stop-color="#292929"/><stop offset="37.59%" stop-color="#1f1f1f"/><stop offset="37.77%" stop-color="#161616"/><stop offset="37.94%" stop-color="#0f0f0f"/><stop offset="38.12%" stop-color="#0b0b0b"/><stop offset="38.3%" stop-color="#090909"/><stop offset="38.48%" stop-color="#090909"/><stop offset="38.65%" stop-color="#0d0d0d"/><stop offset="38.83%" stop-color="#131313"/><stop offset="39.01%" stop-color="#1b1b1b"/><stop offset="39.18%" stop-color="#242424"/><stop offset="39.36%" stop-color="#2e2e2e"/><stop offset="39.54%" stop-color="#383838"/><stop offset="39.72%" stop-color="#414141"/><stop offset="39.89%" stop-color="#484848"/><stop offset="40.07%" stop-color="#4d4d4d"/><stop offset="40.25%" stop-color="#505050"/><stop offset="40.43%" stop-color="#505050"/><stop offset="40.6%" stop-color="#4d4d4d"/><stop offset="40.78%" stop-color="#484848"/><stop offset="40.96%" stop-color="#404040"/><stop offset="41.13%" stop-color="#373737"/><stop offset="41.31%" stop-color="#2d2d2d"/><stop offset="41.49%" stop-color="#232323"/><stop offset="41.67%" stop-color="#1a1a1a"/><stop offset="41.84%" stop-color="#121212"/><stop offset="42.02%" stop-color="#0d0d0d"/><stop offset="42.2%" stop-color="#0b0b0b"/><stop offset="42.38%" stop-color="#0c0c0c"/><stop offset="42.55%" stop-color="#101010"/><stop offset="42.73%" stop-color="#181818"/><stop offset="42.91%" stop-color="#232323"/><stop offset="43.09%" stop-color="#303030"/><stop offset="43.26%" stop-color="#3d3d3d"/><stop offset="43.44%" stop-color="#4a4a4a"/><stop offset="43.62%" stop-color="#565656"/><stop offset="43.79%" stop-color="#606060"/><stop offset="43.97%" stop-color="#666666"/><stop offset="44.15%" stop-color="#696969"/><stop offset="44.33%" stop-color="#686868"/><stop offset="44.5%" stop-color="#646464"/><stop offset="44.68%" stop-color="#5c5c5c"/><stop offset="44.86%" stop-color="#525252"/><stop offset="45.04%" stop-color="#464646"/><stop offset="45.21%" stop-color="#3a3a3a"/><stop offset="45.39%" stop-color="#2e2e2e"/><stop offset="45.57%" stop-color="#242424"/><stop offset="45.74%" stop-color="#1d1d1d"/><stop offset="45.92%" stop-color="#1a1a1a"/><stop offset="46.1%" stop-color="#1b1b1b"/><stop offset="46.28%" stop-color="#202020"/><stop offset="46.45%" stop-color="#252525"/><stop offset="46.63%" stop-color="#2c2c2c"/><stop offset="46.81%" stop-color="#343434"/><stop offset="46.99%" stop-color="#3f3f3f"/><stop offset="47.16%" stop-color="#4d4d4d"/><stop offset="47.34%" stop-color="#5f5f5f"/><stop offset="47.52%" stop-color="#757575"/><stop offset="47.7%" stop-color="#909090"/><stop offset="47.87%" stop-color="#adadad"/><stop offset="48.05%" stop-color="#cccccc"/><stop offset="48.23%" stop-color="#e7e7e7"/><stop offset="48.4%" stop-color="#fbfbfb"/><stop offset="48.76%" stop-color="#fbfbfb"/><stop offset="48.94%" stop-color="#f7f7f7"/><stop offset="49.11%" stop-color="#e3e3e3"/><stop offset="49.29%" stop-color="#cccccc"/><stop offset="49.47%" stop-color="#b6b6b6"/><stop offset="49.65%" stop-color="#a4a4a4"/><stop offset="49.82%" stop-color="#989898"/><stop offset="50%" stop-color="#949494"/><stop offset="50.18%" stop-color="#989898"/><stop offset="50.35%" stop-color="#a4a4a4"/><stop offset="50.53%" stop-color="#b6b6b6"/><stop offset="50.71%" stop-color="#cccccc"/><stop offset="50.89%" stop-color="#e3e3e3"/><stop offset="51.06%" stop-color="#f7f7f7"/><stop offset="51.24%" stop-color="#fbfbfb"/><stop offset="51.6%" stop-color="#fbfbfb"/><stop offset="51.77%" stop-color="#e7e7e7"/><stop offset="51.95%" stop-color="#cccccc"/><stop offset="52.13%" stop-color="#adadad"/><stop offset="52.3%" stop-color="#909090"/><stop offset="52.48%" stop-color="#757575"/><stop offset="52.66%" stop-color="#5f5f5f"/><stop offset="52.84%" stop-color="#4d4d4d"/><stop offset="53.01%" stop-color="#3f3f3f"/><stop offset="53.19%" stop-color="#343434"/><stop offset="53.37%" stop-color="#2c2c2c"/><stop offset="53.55%" stop-color="#252525"/><stop offset="53.72%" stop-color="#202020"/><stop offset="53.9%" stop-color="#1b1b1b"/><stop offset="54.08%" stop-color="#1a1a1a"/><stop offset="54.26%" stop-color="#1d1d1d"/><stop offset="54.43%" stop-color="#242424"/><stop offset="54.61%" stop-color="#2e2e2e"/><stop offset="54.79%" stop-color="#3a3a3a"/><stop offset="54.96%" stop-color="#464646"/><stop offset="55.14%" stop-color="#525252"/><stop offset="55.32%" stop-color="#5c5c5c"/><stop offset="55.5%" stop-color="#646464"/><stop offset="55.67%" stop-color="#686868"/><stop offset="55.85%" stop-color="#696969"/><stop offset="56.03%" stop-color="#666666"/><stop offset="56.21%" stop-color="#606060"/><stop offset="56.38%" stop-color="#565656"/><stop offset="56.56%" stop-color="#4a4a4a"/><stop offset="56.74%" stop-color="#3d3d3d"/><stop offset="56.91%" stop-color="#303030"/><stop offset="57.09%" stop-color="#232323"/><stop offset="57.27%" stop-color="#181818"/><stop offset="57.45%" stop-color="#101010"/><stop offset="57.62%" stop-color="#0c0c0c"/><stop offset="57.8%" stop-color="#0b0b0b"/><stop offset="57.98%" stop-color="#0d0d0d"/><stop offset="58.16%" stop-color="#121212"/><stop offset="58.33%" stop-color="#1a1a1a"/><stop offset="58.51%" stop-color="#232323"/><stop offset="58.69%" stop-color="#2d2d2d"/><stop offset="58.87%" stop-color="#373737"/><stop offset="59.04%" stop-color="#404040"/><stop offset="59.22%" stop-color="#484848"/><stop offset="59.4%" stop-color="#4d4d4d"/><stop offset="59.57%" stop-color="#505050"/><stop offset="59.75%" stop-color="#505050"/><stop offset="59.93%" stop-color="#4d4d4d"/><stop offset="60.11%" stop-color="#484848"/><stop offset="60.28%" stop-color="#414141"/><stop offset="60.46%" stop-color="#383838"/><stop offset="60.64%" stop-color="#2e2e2e"/><stop offset="60.82%" stop-color="#242424"/><stop offset="60.99%" stop-color="#1b1b1b"/><stop offset="61.17%" stop-color="#131313"/><stop offset="61.35%" stop-color="#0d0d0d"/><stop offset="61.52%" stop-color="#090909"/><stop offset="61.7%" stop-color="#090909"/><stop offset="61.88%" stop-color="#0b0b0b"/><stop offset="62.06%" stop-color="#0f0f0f"/><stop offset="62.23%" stop-color="#161616"/><stop offset="62.41%" stop-color="#1f1f1f"/><stop offset="62.59%" stop-color="#292929"/><stop offset="62.77%" stop-color="#333333"/><stop offset="62.94%" stop-color="#3c3c3c"/><stop offset="63.12%" stop-color="#444444"/><stop offset="63.3%" stop-color="#4a4a4a"/><stop offset="63.48%" stop-color="#4e4e4e"/><stop offset="63.65%" stop-color="#4f4f4f"/><stop offset="63.83%" stop-color="#4d4d4d"/><stop offset="64.01%" stop-color="#484848"/><stop offset="64.18%" stop-color="#414141"/><stop offset="64.36%" stop-color="#383838"/><stop offset="64.54%" stop-color="#2e2e2e"/><stop offset="64.72%" stop-color="#242424"/><stop offset="64.89%" stop-color="#1b1b1b"/><stop offset="65.07%" stop-color="#131313"/><stop offset="65.25%" stop-color="#0d0d0d"/><stop offset="65.43%" stop-color="#090909"/><stop offset="65.6%" stop-color="#090909"/><stop offset="65.78%" stop-color="#0b0b0b"/><stop offset="65.96%" stop-color="#0f0f0f"/><stop offset="66.13%" stop-color="#161616"/><stop offset="66.31%" stop-color="#1f1f1f"/><stop offset="66.49%" stop-color="#282828"/><stop offset="66.67%" stop-color="#313131"/><stop offset="66.84%" stop-color="#3a3a3a"/><stop offset="67.02%" stop-color="#424242"/><stop offset="67.2%" stop-color="#484848"/><stop offset="67.38%" stop-color="#4b4b4b"/><stop offset="67.55%" stop-color="#4c4c4c"/><stop offset="67.73%" stop-color="#4a4a4a"/><stop offset="67.91%" stop-color="#454545"/><stop offset="68.09%" stop-color="#3e3e3e"/><stop offset="68.26%" stop-color="#363636"/><stop offset="68.44%" stop-color="#2d2d2d"/><stop offset="68.62%" stop-color="#232323"/><stop offset="68.79%" stop-color="#1a1a1a"/><stop offset="68.97%" stop-color="#121212"/><stop offset="69.15%" stop-color="#0d0d0d"/><stop offset="69.33%" stop-color="#090909"/><stop offset="69.5%" stop-color="#080808"/><stop offset="69.68%" stop-color="#0a0a0a"/><stop offset="69.86%" stop-color="#0f0f0f"/><stop offset="70.04%" stop-color="#161616"/><stop offset="70.21%" stop-color="#1e1e1e"/><stop offset="70.39%" stop-color="#282828"/><stop offset="70.57%" stop-color="#323232"/><stop offset="70.74%" stop-color="#3b3b3b"/><stop offset="70.92%" stop-color="#434343"/><stop offset="71.1%" stop-color="#494949"/><stop offset="71.28%" stop-color="#4d4d4d"/><stop offset="71.45%" stop-color="#4e4e4e"/><stop offset="71.63%" stop-color="#4c4c4c"/><stop offset="71.81%" stop-color="#474747"/><stop offset="71.99%" stop-color="#414141"/><stop offset="72.16%" stop-color="#383838"/><stop offset="72.34%" stop-color="#2f2f2f"/><stop offset="72.52%" stop-color="#252525"/><stop offset="72.7%" stop-color="#1b1b1b"/><stop offset="72.87%" stop-color="#131313"/><stop offset="73.05%" stop-color="#0d0d0d"/><stop offset="73.23%" stop-color="#0a0a0a"/><stop offset="73.4%" stop-color="#090909"/><stop offset="73.58%" stop-color="#0b0b0b"/><stop offset="73.76%" stop-color="#111111"/><stop offset="73.94%" stop-color="#181818"/><stop offset="74.11%" stop-color="#222222"/><stop offset="74.29%" stop-color="#2d2d2d"/><stop offset="74.47%" stop-color="#383838"/><stop offset="74.65%" stop-color="#434343"/><stop offset="74.82%" stop-color="#4d4d4d"/><stop offset="75%" stop-color="#545454"/><stop offset="75.18%" stop-color="#595959"/><stop offset="75.35%" stop-color="#5b5b5b"/><stop offset="75.53%" stop-color="#595959"/><stop offset="75.71%" stop-color="#545454"/><stop offset="75.89%" stop-color="#4d4d4d"/><stop offset="76.06%" stop-color="#434343"/><stop offset="76.24%" stop-color="#383838"/><stop offset="76.42%" stop-color="#2c2c2c"/><stop offset="76.6%" stop-color="#212121"/><stop offset="76.77%" stop-color="#181818"/><stop offset="76.95%" stop-color="#101010"/><stop offset="77.13%" stop-color="#0c0c0c"/><stop offset="77.3%" stop-color="#0b0b0b"/><stop offset="77.48%" stop-color="#0e0e0e"/><stop offset="77.66%" stop-color="#151515"/><stop offset="77.84%" stop-color="#1f1f1f"/><stop offset="78.01%" stop-color="#2b2b2b"/><stop offset="78.19%" stop-color="#3a3a3a"/><stop offset="78.37%" stop-color="#494949"/><stop offset="78.55%" stop-color="#585858"/><stop offset="78.72%" stop-color="#666666"/><stop offset="78.9%" stop-color="#727272"/><stop offset="79.08%" stop-color="#7b7b7b"/><stop offset="79.26%" stop-color="#808080"/><stop offset="79.43%" stop-color="#808080"/><stop offset="79.61%" stop-color="#7c7c7c"/><stop offset="79.79%" stop-color="#747474"/><stop offset="79.96%" stop-color="#686868"/><stop offset="80.14%" stop-color="#595959"/><stop offset="80.32%" stop-color="#494949"/><stop offset="80.5%" stop-color="#383838"/><stop offset="80.67%" stop-color="#292929"/><stop offset="80.85%" stop-color="#1e1e1e"/><stop offset="81.03%" stop-color="#171717"/><stop offset="81.21%" stop-color="#171717"/><stop offset="81.38%" stop-color="#1e1e1e"/><stop offset="81.56%" stop-color="#2e2e2e"/><stop offset="81.74%" stop-color="#494949"/><stop offset="81.91%" stop-color="#666666"/><stop offset="82.09%" stop-color="#868686"/><stop offset="82.27%" stop-color="#a6a6a6"/><stop offset="82.45%" stop-color="#c4c4c4"/><stop offset="82.62%" stop-color="#dedede"/><stop offset="82.8%" stop-color="#f1f1f1"/><stop offset="82.98%" stop-color="#fdfdfd"/><stop offset="83.16%" stop-color="#ffffff"/><stop offset="83.33%" stop-color="#f8f8f8"/><stop offset="83.51%" stop-color="#e8e8e8"/><stop offset="83.69%" stop-color="#d1d1d1"/><stop offset="83.87%" stop-color="#b5b5b5"/><stop offset="84.04%" stop-color="#959595"/><stop offset="84.22%" stop-color="#757575"/><stop offset="84.4%" stop-color="#575757"/><stop offset="84.57%" stop-color="#3d3d3d"/><stop offset="84.75%" stop-color="#2a2a2a"/><stop offset="84.93%" stop-color="#1f1f1f"/><stop offset="85.11%" stop-color="#1c1c1c"/><stop offset="85.28%" stop-color="#232323"/><stop offset="85.46%" stop-color="#333333"/><stop offset="85.64%" stop-color="#4a4a4a"/><stop offset="85.82%" stop-color="#676767"/><stop offset="85.99%" stop-color="#868686"/><stop offset="86.17%" stop-color="#a6a6a6"/><stop offset="86.35%" stop-color="#c5c5c5"/><stop offset="86.52%" stop-color="#dedede"/><stop offset="86.7%" stop-color="#f1f1f1"/><stop offset="86.88%" stop-color="#fdfdfd"/><stop offset="87.06%" stop-color="#ffffff"/><stop offset="87.23%" stop-color="#f8f8f8"/><stop offset="87.41%" stop-color="#e8e8e8"/><stop offset="87.59%" stop-color="#d1d1d1"/><stop offset="87.77%" stop-color="#b4b4b4"/><stop offset="87.94%" stop-color="#959595"/><stop offset="88.12%" stop-color="#757575"/><stop offset="88.3%" stop-color="#565656"/><stop offset="88.48%" stop-color="#252525"/><stop offset="88.65%" stop-color="#0b0b0b"/><stop offset="88.83%" stop-color="#020202"/><stop offset="89.01%" stop-color="#000000"/><stop offset="100%" stop-color="#000000"/></linearGradient>
<radialGradient id="gre" gradientUnits="userSpaceOnUse" cx="0" cy="0" r="150" gradientTransform="translate(167.15 451.95) scale(1 0.52)"><stop offset="0%" stop-color="#000" stop-opacity="0"/><stop offset="0.67%" stop-color="#000" stop-opacity="0"/><stop offset="1.33%" stop-color="#000" stop-opacity="0.001"/><stop offset="2%" stop-color="#000" stop-opacity="0.002"/><stop offset="2.67%" stop-color="#000" stop-opacity="0.004"/><stop offset="3.33%" stop-color="#000" stop-opacity="0.007"/><stop offset="4%" stop-color="#000" stop-opacity="0.01"/><stop offset="4.67%" stop-color="#000" stop-opacity="0.013"/><stop offset="5.33%" stop-color="#000" stop-opacity="0.017"/><stop offset="6%" stop-color="#000" stop-opacity="0.022"/><stop offset="6.67%" stop-color="#000" stop-opacity="0.027"/><stop offset="7.33%" stop-color="#000" stop-opacity="0.032"/><stop offset="8%" stop-color="#000" stop-opacity="0.038"/><stop offset="8.67%" stop-color="#000" stop-opacity="0.045"/><stop offset="9.33%" stop-color="#000" stop-opacity="0.052"/><stop offset="10%" stop-color="#000" stop-opacity="0.059"/><stop offset="10.67%" stop-color="#000" stop-opacity="0.067"/><stop offset="11.33%" stop-color="#000" stop-opacity="0.075"/><stop offset="12%" stop-color="#000" stop-opacity="0.084"/><stop offset="12.67%" stop-color="#000" stop-opacity="0.094"/><stop offset="13.33%" stop-color="#000" stop-opacity="0.103"/><stop offset="14%" stop-color="#000" stop-opacity="0.113"/><stop offset="14.67%" stop-color="#000" stop-opacity="0.124"/><stop offset="15.33%" stop-color="#000" stop-opacity="0.135"/><stop offset="16%" stop-color="#000" stop-opacity="0.146"/><stop offset="16.67%" stop-color="#000" stop-opacity="0.158"/><stop offset="17.33%" stop-color="#000" stop-opacity="0.17"/><stop offset="18%" stop-color="#000" stop-opacity="0.183"/><stop offset="18.67%" stop-color="#000" stop-opacity="0.196"/><stop offset="19.33%" stop-color="#000" stop-opacity="0.209"/><stop offset="20%" stop-color="#000" stop-opacity="0.222"/><stop offset="20.67%" stop-color="#000" stop-opacity="0.236"/><stop offset="21.33%" stop-color="#000" stop-opacity="0.25"/><stop offset="22%" stop-color="#000" stop-opacity="0.264"/><stop offset="22.67%" stop-color="#000" stop-opacity="0.279"/><stop offset="23.33%" stop-color="#000" stop-opacity="0.294"/><stop offset="24%" stop-color="#000" stop-opacity="0.309"/><stop offset="24.67%" stop-color="#000" stop-opacity="0.324"/><stop offset="25.33%" stop-color="#000" stop-opacity="0.339"/><stop offset="26%" stop-color="#000" stop-opacity="0.355"/><stop offset="26.67%" stop-color="#000" stop-opacity="0.371"/><stop offset="27.33%" stop-color="#000" stop-opacity="0.386"/><stop offset="28%" stop-color="#000" stop-opacity="0.402"/><stop offset="28.67%" stop-color="#000" stop-opacity="0.419"/><stop offset="29.33%" stop-color="#000" stop-opacity="0.435"/><stop offset="30%" stop-color="#000" stop-opacity="0.451"/><stop offset="30.67%" stop-color="#000" stop-opacity="0.467"/><stop offset="31.33%" stop-color="#000" stop-opacity="0.484"/><stop offset="32%" stop-color="#000" stop-opacity="0.5"/><stop offset="32.67%" stop-color="#000" stop-opacity="0.516"/><stop offset="33.33%" stop-color="#000" stop-opacity="0.533"/><stop offset="34%" stop-color="#000" stop-opacity="0.549"/><stop offset="34.67%" stop-color="#000" stop-opacity="0.565"/><stop offset="35.33%" stop-color="#000" stop-opacity="0.581"/><stop offset="36%" stop-color="#000" stop-opacity="0.598"/><stop offset="36.67%" stop-color="#000" stop-opacity="0.614"/><stop offset="37.33%" stop-color="#000" stop-opacity="0.629"/><stop offset="38%" stop-color="#000" stop-opacity="0.645"/><stop offset="38.67%" stop-color="#000" stop-opacity="0.661"/><stop offset="39.33%" stop-color="#000" stop-opacity="0.676"/><stop offset="40%" stop-color="#000" stop-opacity="0.691"/><stop offset="40.67%" stop-color="#000" stop-opacity="0.706"/><stop offset="41.33%" stop-color="#000" stop-opacity="0.721"/><stop offset="42%" stop-color="#000" stop-opacity="0.736"/><stop offset="42.67%" stop-color="#000" stop-opacity="0.75"/><stop offset="43.33%" stop-color="#000" stop-opacity="0.764"/><stop offset="44%" stop-color="#000" stop-opacity="0.778"/><stop offset="44.67%" stop-color="#000" stop-opacity="0.791"/><stop offset="45.33%" stop-color="#000" stop-opacity="0.804"/><stop offset="46%" stop-color="#000" stop-opacity="0.817"/><stop offset="46.67%" stop-color="#000" stop-opacity="0.83"/><stop offset="47.33%" stop-color="#000" stop-opacity="0.842"/><stop offset="48%" stop-color="#000" stop-opacity="0.854"/><stop offset="48.67%" stop-color="#000" stop-opacity="0.865"/><stop offset="49.33%" stop-color="#000" stop-opacity="0.876"/><stop offset="50%" stop-color="#000" stop-opacity="0.887"/><stop offset="50.67%" stop-color="#000" stop-opacity="0.897"/><stop offset="51.33%" stop-color="#000" stop-opacity="0.906"/><stop offset="52%" stop-color="#000" stop-opacity="0.916"/><stop offset="52.67%" stop-color="#000" stop-opacity="0.925"/><stop offset="53.33%" stop-color="#000" stop-opacity="0.933"/><stop offset="54%" stop-color="#000" stop-opacity="0.941"/><stop offset="54.67%" stop-color="#000" stop-opacity="0.948"/><stop offset="55.33%" stop-color="#000" stop-opacity="0.955"/><stop offset="56%" stop-color="#000" stop-opacity="0.962"/><stop offset="56.67%" stop-color="#000" stop-opacity="0.968"/><stop offset="57.33%" stop-color="#000" stop-opacity="0.973"/><stop offset="58%" stop-color="#000" stop-opacity="0.978"/><stop offset="58.67%" stop-color="#000" stop-opacity="0.983"/><stop offset="59.33%" stop-color="#000" stop-opacity="0.987"/><stop offset="60%" stop-color="#000" stop-opacity="0.99"/><stop offset="60.67%" stop-color="#000" stop-opacity="0.993"/><stop offset="61.33%" stop-color="#000" stop-opacity="0.996"/><stop offset="62%" stop-color="#000" stop-opacity="0.998"/><stop offset="62.67%" stop-color="#000" stop-opacity="0.999"/><stop offset="63.33%" stop-color="#000" stop-opacity="1"/><stop offset="100%" stop-color="#000" stop-opacity="1"/></radialGradient>
<clipPath id="cpe"><rect x="26.1" y="381.5" width="282.1" height="140.9"/></clipPath>
<linearGradient id="gxf" gradientUnits="userSpaceOnUse" x1="391.8" y1="0" x2="672.8" y2="0"><stop offset="0%" stop-color="#000000"/><stop offset="12.63%" stop-color="#000000"/><stop offset="12.81%" stop-color="#020202"/><stop offset="12.99%" stop-color="#0a0a0a"/><stop offset="13.17%" stop-color="#1f1f1f"/><stop offset="13.35%" stop-color="#434343"/><stop offset="13.52%" stop-color="#5e5e5e"/><stop offset="13.7%" stop-color="#7d7d7d"/><stop offset="13.88%" stop-color="#9e9e9e"/><stop offset="14.06%" stop-color="#bdbdbd"/><stop offset="14.23%" stop-color="#d8d8d8"/><stop offset="14.41%" stop-color="#ededed"/><stop offset="14.59%" stop-color="#fafafa"/><stop offset="14.77%" stop-color="#ffffff"/><stop offset="14.95%" stop-color="#fafafa"/><stop offset="15.12%" stop-color="#ededed"/><stop offset="15.3%" stop-color="#d8d8d8"/><stop offset="15.48%" stop-color="#bdbdbd"/><stop offset="15.66%" stop-color="#9e9e9e"/><stop offset="15.84%" stop-color="#7d7d7d"/><stop offset="16.01%" stop-color="#5e5e5e"/><stop offset="16.19%" stop-color="#434343"/><stop offset="16.37%" stop-color="#2e2e2e"/><stop offset="16.55%" stop-color="#212121"/><stop offset="16.73%" stop-color="#1c1c1c"/><stop offset="16.9%" stop-color="#212121"/><stop offset="17.08%" stop-color="#2e2e2e"/><stop offset="17.26%" stop-color="#3e3e3e"/><stop offset="17.44%" stop-color="#494949"/><stop offset="17.62%" stop-color="#545454"/><stop offset="17.79%" stop-color="#5c5c5c"/><stop offset="17.97%" stop-color="#626262"/><stop offset="18.15%" stop-color="#656565"/><stop offset="18.33%" stop-color="#666666"/><stop offset="18.51%" stop-color="#656565"/><stop offset="18.68%" stop-color="#606060"/><stop offset="18.86%" stop-color="#5a5a5a"/><stop offset="19.04%" stop-color="#515151"/><stop offset="19.22%" stop-color="#484848"/><stop offset="19.4%" stop-color="#3d3d3d"/><stop offset="19.57%" stop-color="#313131"/><stop offset="19.75%" stop-color="#262626"/><stop offset="19.93%" stop-color="#1c1c1c"/><stop offset="20.11%" stop-color="#141414"/><stop offset="20.28%" stop-color="#0d0d0d"/><stop offset="20.46%" stop-color="#090909"/><stop offset="20.64%" stop-color="#080808"/><stop offset="20.82%" stop-color="#090909"/><stop offset="21%" stop-color="#0d0d0d"/><stop offset="21.17%" stop-color="#121212"/><stop offset="21.35%" stop-color="#191919"/><stop offset="21.53%" stop-color="#212121"/><stop offset="21.71%" stop-color="#292929"/><stop offset="21.89%" stop-color="#303030"/><stop offset="22.06%" stop-color="#373737"/><stop offset="22.24%" stop-color="#3c3c3c"/><stop offset="22.42%" stop-color="#3e3e3e"/><stop offset="22.6%" stop-color="#3f3f3f"/><stop offset="22.78%" stop-color="#3d3d3d"/><stop offset="22.95%" stop-color="#393939"/><stop offset="23.13%" stop-color="#343434"/><stop offset="23.31%" stop-color="#2d2d2d"/><stop offset="23.49%" stop-color="#252525"/><stop offset="23.67%" stop-color="#1e1e1e"/><stop offset="23.84%" stop-color="#161616"/><stop offset="24.02%" stop-color="#101010"/><stop offset="24.2%" stop-color="#0b0b0b"/><stop offset="24.38%" stop-color="#080808"/><stop offset="24.56%" stop-color="#070707"/><stop offset="24.73%" stop-color="#080808"/><stop offset="24.91%" stop-color="#0b0b0b"/><stop offset="25.09%" stop-color="#101010"/><stop offset="25.27%" stop-color="#161616"/><stop offset="25.44%" stop-color="#1e1e1e"/><stop offset="25.62%" stop-color="#252525"/><stop offset="25.8%" stop-color="#2d2d2d"/><stop offset="25.98%" stop-color="#333333"/><stop offset="26.16%" stop-color="#383838"/><stop offset="26.33%" stop-color="#3b3b3b"/><stop offset="26.51%" stop-color="#3c3c3c"/><stop offset="26.69%" stop-color="#3b3b3b"/><stop offset="26.87%" stop-color="#383838"/><stop offset="27.05%" stop-color="#333333"/><stop offset="27.22%" stop-color="#2c2c2c"/><stop offset="27.4%" stop-color="#252525"/><stop offset="27.58%" stop-color="#1d1d1d"/><stop offset="27.76%" stop-color="#161616"/><stop offset="27.94%" stop-color="#101010"/><stop offset="28.11%" stop-color="#0b0b0b"/><stop offset="28.29%" stop-color="#080808"/><stop offset="28.47%" stop-color="#070707"/><stop offset="28.65%" stop-color="#080808"/><stop offset="28.83%" stop-color="#0b0b0b"/><stop offset="29%" stop-color="#101010"/><stop offset="29.18%" stop-color="#161616"/><stop offset="29.36%" stop-color="#1d1d1d"/><stop offset="29.54%" stop-color="#252525"/><stop offset="29.72%" stop-color="#2c2c2c"/><stop offset="29.89%" stop-color="#333333"/><stop offset="30.07%" stop-color="#383838"/><stop offset="30.25%" stop-color="#3b3b3b"/><stop offset="30.43%" stop-color="#3c3c3c"/><stop offset="30.6%" stop-color="#3b3b3b"/><stop offset="30.78%" stop-color="#383838"/><stop offset="30.96%" stop-color="#343434"/><stop offset="31.14%" stop-color="#2d2d2d"/><stop offset="31.32%" stop-color="#262626"/><stop offset="31.49%" stop-color="#1e1e1e"/><stop offset="31.67%" stop-color="#171717"/><stop offset="31.85%" stop-color="#101010"/><stop offset="32.03%" stop-color="#0b0b0b"/><stop offset="32.21%" stop-color="#080808"/><stop offset="32.38%" stop-color="#070707"/><stop offset="32.56%" stop-color="#080808"/><stop offset="32.74%" stop-color="#0c0c0c"/><stop offset="32.92%" stop-color="#111111"/><stop offset="33.1%" stop-color="#181818"/><stop offset="33.27%" stop-color="#202020"/><stop offset="33.45%" stop-color="#292929"/><stop offset="33.63%" stop-color="#313131"/><stop offset="33.81%" stop-color="#383838"/><stop offset="33.99%" stop-color="#3e3e3e"/><stop offset="34.16%" stop-color="#414141"/><stop offset="34.34%" stop-color="#434343"/><stop offset="34.52%" stop-color="#424242"/><stop offset="34.7%" stop-color="#3e3e3e"/><stop offset="34.88%" stop-color="#393939"/><stop offset="35.05%" stop-color="#323232"/><stop offset="35.23%" stop-color="#2a2a2a"/><stop offset="35.41%" stop-color="#212121"/><stop offset="35.59%" stop-color="#191919"/><stop offset="35.77%" stop-color="#121212"/><stop offset="35.94%" stop-color="#0c0c0c"/><stop offset="36.12%" stop-color="#090909"/><stop offset="36.3%" stop-color="#070707"/><stop offset="36.48%" stop-color="#090909"/><stop offset="36.65%" stop-color="#0c0c0c"/><stop offset="36.83%" stop-color="#121212"/><stop offset="37.01%" stop-color="#191919"/><stop offset="37.19%" stop-color="#222222"/><stop offset="37.37%" stop-color="#2a2a2a"/><stop offset="37.54%" stop-color="#333333"/><stop offset="37.72%" stop-color="#3a3a3a"/><stop offset="37.9%" stop-color="#404040"/><stop offset="38.08%" stop-color="#444444"/><stop offset="38.26%" stop-color="#454545"/><stop offset="38.43%" stop-color="#444444"/><stop offset="38.61%" stop-color="#414141"/><stop offset="38.79%" stop-color="#3b3b3b"/><stop offset="38.97%" stop-color="#343434"/><stop offset="39.15%" stop-color="#2c2c2c"/><stop offset="39.32%" stop-color="#232323"/><stop offset="39.5%" stop-color="#1a1a1a"/><stop offset="39.68%" stop-color="#131313"/><stop offset="39.86%" stop-color="#0d0d0d"/><stop offset="40.04%" stop-color="#090909"/><stop offset="40.21%" stop-color="#080808"/><stop offset="40.39%" stop-color="#090909"/><stop offset="40.57%" stop-color="#0d0d0d"/><stop offset="40.75%" stop-color="#131313"/><stop offset="40.93%" stop-color="#1b1b1b"/><stop offset="41.1%" stop-color="#242424"/><stop offset="41.28%" stop-color="#2e2e2e"/><stop offset="41.46%" stop-color="#373737"/><stop offset="41.64%" stop-color="#3f3f3f"/><stop offset="41.81%" stop-color="#464646"/><stop offset="41.99%" stop-color="#4a4a4a"/><stop offset="42.17%" stop-color="#4b4b4b"/><stop offset="42.35%" stop-color="#4a4a4a"/><stop offset="42.53%" stop-color="#464646"/><stop offset="42.7%" stop-color="#404040"/><stop offset="42.88%" stop-color="#383838"/><stop offset="43.06%" stop-color="#2f2f2f"/><stop offset="43.24%" stop-color="#262626"/><stop offset="43.42%" stop-color="#1d1d1d"/><stop offset="43.59%" stop-color="#141414"/><stop offset="43.77%" stop-color="#0e0e0e"/><stop offset="43.95%" stop-color="#0a0a0a"/><stop offset="44.13%" stop-color="#090909"/><stop offset="44.31%" stop-color="#0a0a0a"/><stop offset="44.48%" stop-color="#0e0e0e"/><stop offset="44.66%" stop-color="#151515"/><stop offset="44.84%" stop-color="#1d1d1d"/><stop offset="45.02%" stop-color="#272727"/><stop offset="45.2%" stop-color="#313131"/><stop offset="45.37%" stop-color="#3b3b3b"/><stop offset="45.55%" stop-color="#434343"/><stop offset="45.73%" stop-color="#4a4a4a"/><stop offset="45.91%" stop-color="#4f4f4f"/><stop offset="46.09%" stop-color="#505050"/><stop offset="46.26%" stop-color="#4f4f4f"/><stop offset="46.44%" stop-color="#4c4c4c"/><stop offset="46.62%" stop-color="#474747"/><stop offset="46.8%" stop-color="#414141"/><stop offset="46.98%" stop-color="#3a3a3a"/><stop offset="47.15%" stop-color="#353535"/><stop offset="47.33%" stop-color="#313131"/><stop offset="47.51%" stop-color="#303030"/><stop offset="47.69%" stop-color="#333333"/><stop offset="47.86%" stop-color="#3b3b3b"/><stop offset="48.04%" stop-color="#484848"/><stop offset="48.22%" stop-color="#585858"/><stop offset="48.4%" stop-color="#6c6c6c"/><stop offset="48.58%" stop-color="#818181"/><stop offset="48.75%" stop-color="#979797"/><stop offset="48.93%" stop-color="#adadad"/><stop offset="49.11%" stop-color="#c3c3c3"/><stop offset="49.29%" stop-color="#d7d7d7"/><stop offset="49.47%" stop-color="#e8e8e8"/><stop offset="49.64%" stop-color="#f5f5f5"/><stop offset="49.82%" stop-color="#fdfdfd"/><stop offset="50%" stop-color="#ffffff"/><stop offset="50.18%" stop-color="#fdfdfd"/><stop offset="50.36%" stop-color="#f5f5f5"/><stop offset="50.53%" stop-color="#e8e8e8"/><stop offset="50.71%" stop-color="#d7d7d7"/><stop offset="50.89%" stop-color="#c3c3c3"/><stop offset="51.07%" stop-color="#adadad"/><stop offset="51.25%" stop-color="#979797"/><stop offset="51.42%" stop-color="#818181"/><stop offset="51.6%" stop-color="#6c6c6c"/><stop offset="51.78%" stop-color="#585858"/><stop offset="51.96%" stop-color="#484848"/><stop offset="52.14%" stop-color="#3b3b3b"/><stop offset="52.31%" stop-color="#333333"/><stop offset="52.49%" stop-color="#303030"/><stop offset="52.67%" stop-color="#313131"/><stop offset="52.85%" stop-color="#353535"/><stop offset="53.02%" stop-color="#3a3a3a"/><stop offset="53.2%" stop-color="#414141"/><stop offset="53.38%" stop-color="#474747"/><stop offset="53.56%" stop-color="#4c4c4c"/><stop offset="53.74%" stop-color="#4f4f4f"/><stop offset="53.91%" stop-color="#505050"/><stop offset="54.09%" stop-color="#4f4f4f"/><stop offset="54.27%" stop-color="#4a4a4a"/><stop offset="54.45%" stop-color="#434343"/><stop offset="54.63%" stop-color="#3b3b3b"/><stop offset="54.8%" stop-color="#313131"/><stop offset="54.98%" stop-color="#272727"/><stop offset="55.16%" stop-color="#1d1d1d"/><stop offset="55.34%" stop-color="#151515"/><stop offset="55.52%" stop-color="#0e0e0e"/><stop offset="55.69%" stop-color="#0a0a0a"/><stop offset="55.87%" stop-color="#090909"/><stop offset="56.05%" stop-color="#0a0a0a"/><stop offset="56.23%" stop-color="#0e0e0e"/><stop offset="56.41%" stop-color="#141414"/><stop offset="56.58%" stop-color="#1d1d1d"/><stop offset="56.76%" stop-color="#262626"/><stop offset="56.94%" stop-color="#2f2f2f"/><stop offset="57.12%" stop-color="#383838"/><stop offset="57.3%" stop-color="#404040"/><stop offset="57.47%" stop-color="#464646"/><stop offset="57.65%" stop-color="#4a4a4a"/><stop offset="57.83%" stop-color="#4b4b4b"/><stop offset="58.01%" stop-color="#4a4a4a"/><stop offset="58.19%" stop-color="#464646"/><stop offset="58.36%" stop-color="#3f3f3f"/><stop offset="58.54%" stop-color="#373737"/><stop offset="58.72%" stop-color="#2e2e2e"/><stop offset="58.9%" stop-color="#242424"/><stop offset="59.07%" stop-color="#1b1b1b"/><stop offset="59.25%" stop-color="#131313"/><stop offset="59.43%" stop-color="#0d0d0d"/><stop offset="59.61%" stop-color="#090909"/><stop offset="59.79%" stop-color="#080808"/><stop offset="59.96%" stop-color="#090909"/><stop offset="60.14%" stop-color="#0d0d0d"/><stop offset="60.32%" stop-color="#131313"/><stop offset="60.5%" stop-color="#1a1a1a"/><stop offset="60.68%" stop-color="#232323"/><stop offset="60.85%" stop-color="#2c2c2c"/><stop offset="61.03%" stop-color="#343434"/><stop offset="61.21%" stop-color="#3b3b3b"/><stop offset="61.39%" stop-color="#414141"/><stop offset="61.57%" stop-color="#444444"/><stop offset="61.74%" stop-color="#454545"/><stop offset="61.92%" stop-color="#444444"/><stop offset="62.1%" stop-color="#404040"/><stop offset="62.28%" stop-color="#3a3a3a"/><stop offset="62.46%" stop-color="#333333"/><stop offset="62.63%" stop-color="#2a2a2a"/><stop offset="62.81%" stop-color="#222222"/><stop offset="62.99%" stop-color="#191919"/><stop offset="63.17%" stop-color="#121212"/><stop offset="63.35%" stop-color="#0c0c0c"/><stop offset="63.52%" stop-color="#090909"/><stop offset="63.7%" stop-color="#070707"/><stop offset="63.88%" stop-color="#090909"/><stop offset="64.06%" stop-color="#0c0c0c"/><stop offset="64.23%" stop-color="#121212"/><stop offset="64.41%" stop-color="#191919"/><stop offset="64.59%" stop-color="#212121"/><stop offset="64.77%" stop-color="#2a2a2a"/><stop offset="64.95%" stop-color="#323232"/><stop offset="65.12%" stop-color="#393939"/><stop offset="65.3%" stop-color="#3e3e3e"/><stop offset="65.48%" stop-color="#424242"/><stop offset="65.66%" stop-color="#434343"/><stop offset="65.84%" stop-color="#414141"/><stop offset="66.01%" stop-color="#3e3e3e"/><stop offset="66.19%" stop-color="#383838"/><stop offset="66.37%" stop-color="#313131"/><stop offset="66.55%" stop-color="#292929"/><stop offset="66.73%" stop-color="#202020"/><stop offset="66.9%" stop-color="#181818"/><stop offset="67.08%" stop-color="#111111"/><stop offset="67.26%" stop-color="#0c0c0c"/><stop offset="67.44%" stop-color="#080808"/><stop offset="67.62%" stop-color="#070707"/><stop offset="67.79%" stop-color="#080808"/><stop offset="67.97%" stop-color="#0b0b0b"/><stop offset="68.15%" stop-color="#101010"/><stop offset="68.33%" stop-color="#171717"/><stop offset="68.51%" stop-color="#1e1e1e"/><stop offset="68.68%" stop-color="#262626"/><stop offset="68.86%" stop-color="#2d2d2d"/><stop offset="69.04%" stop-color="#343434"/><stop offset="69.22%" stop-color="#383838"/><stop offset="69.4%" stop-color="#3b3b3b"/><stop offset="69.57%" stop-color="#3c3c3c"/><stop offset="69.75%" stop-color="#3b3b3b"/><stop offset="69.93%" stop-color="#383838"/><stop offset="70.11%" stop-color="#333333"/><stop offset="70.28%" stop-color="#2c2c2c"/><stop offset="70.46%" stop-color="#252525"/><stop offset="70.64%" stop-color="#1d1d1d"/><stop offset="70.82%" stop-color="#161616"/><stop offset="71%" stop-color="#101010"/><stop offset="71.17%" stop-color="#0b0b0b"/><stop offset="71.35%" stop-color="#080808"/><stop offset="71.53%" stop-color="#070707"/><stop offset="71.71%" stop-color="#080808"/><stop offset="71.89%" stop-color="#0b0b0b"/><stop offset="72.06%" stop-color="#101010"/><stop offset="72.24%" stop-color="#161616"/><stop offset="72.42%" stop-color="#1d1d1d"/><stop offset="72.6%" stop-color="#252525"/><stop offset="72.78%" stop-color="#2c2c2c"/><stop offset="72.95%" stop-color="#333333"/><stop offset="73.13%" stop-color="#383838"/><stop offset="73.31%" stop-color="#3b3b3b"/><stop offset="73.49%" stop-color="#3c3c3c"/><stop offset="73.67%" stop-color="#3b3b3b"/><stop offset="73.84%" stop-color="#383838"/><stop offset="74.02%" stop-color="#333333"/><stop offset="74.2%" stop-color="#2d2d2d"/><stop offset="74.38%" stop-color="#252525"/><stop offset="74.56%" stop-color="#1e1e1e"/><stop offset="74.73%" stop-color="#161616"/><stop offset="74.91%" stop-color="#101010"/><stop offset="75.09%" stop-color="#0b0b0b"/><stop offset="75.27%" stop-color="#080808"/><stop offset="75.44%" stop-color="#070707"/><stop offset="75.62%" stop-color="#080808"/><stop offset="75.8%" stop-color="#0b0b0b"/><stop offset="75.98%" stop-color="#101010"/><stop offset="76.16%" stop-color="#161616"/><stop offset="76.33%" stop-color="#1e1e1e"/><stop offset="76.51%" stop-color="#252525"/><stop offset="76.69%" stop-color="#2d2d2d"/><stop offset="76.87%" stop-color="#343434"/><stop offset="77.05%" stop-color="#393939"/><stop offset="77.22%" stop-color="#3d3d3d"/><stop offset="77.4%" stop-color="#3f3f3f"/><stop offset="77.58%" stop-color="#3e3e3e"/><stop offset="77.76%" stop-color="#3c3c3c"/><stop offset="77.94%" stop-color="#373737"/><stop offset="78.11%" stop-color="#303030"/><stop offset="78.29%" stop-color="#292929"/><stop offset="78.47%" stop-color="#212121"/><stop offset="78.65%" stop-color="#191919"/><stop offset="78.83%" stop-color="#121212"/><stop offset="79%" stop-color="#0d0d0d"/><stop offset="79.18%" stop-color="#090909"/><stop offset="79.36%" stop-color="#080808"/><stop offset="79.54%" stop-color="#090909"/><stop offset="79.72%" stop-color="#0d0d0d"/><stop offset="79.89%" stop-color="#141414"/><stop offset="80.07%" stop-color="#1c1c1c"/><stop offset="80.25%" stop-color="#262626"/><stop offset="80.43%" stop-color="#313131"/><stop offset="80.6%" stop-color="#3d3d3d"/><stop offset="80.78%" stop-color="#484848"/><stop offset="80.96%" stop-color="#515151"/><stop offset="81.14%" stop-color="#5a5a5a"/><stop offset="81.32%" stop-color="#606060"/><stop offset="81.49%" stop-color="#656565"/><stop offset="81.67%" stop-color="#666666"/><stop offset="81.85%" stop-color="#656565"/><stop offset="82.03%" stop-color="#626262"/><stop offset="82.21%" stop-color="#5c5c5c"/><stop offset="82.38%" stop-color="#545454"/><stop offset="82.56%" stop-color="#494949"/><stop offset="82.74%" stop-color="#3e3e3e"/><stop offset="82.92%" stop-color="#2e2e2e"/><stop offset="83.1%" stop-color="#212121"/><stop offset="83.27%" stop-color="#1c1c1c"/><stop offset="83.45%" stop-color="#212121"/><stop offset="83.63%" stop-color="#2e2e2e"/><stop offset="83.81%" stop-color="#434343"/><stop offset="83.99%" stop-color="#5e5e5e"/><stop offset="84.16%" stop-color="#7d7d7d"/><stop offset="84.34%" stop-color="#9e9e9e"/><stop offset="84.52%" stop-color="#bdbdbd"/><stop offset="84.7%" stop-color="#d8d8d8"/><stop offset="84.88%" stop-color="#ededed"/><stop offset="85.05%" stop-color="#fafafa"/><stop offset="85.23%" stop-color="#ffffff"/><stop offset="85.41%" stop-color="#fafafa"/><stop offset="85.59%" stop-color="#ededed"/><stop offset="85.77%" stop-color="#d8d8d8"/><stop offset="85.94%" stop-color="#bdbdbd"/><stop offset="86.12%" stop-color="#9e9e9e"/><stop offset="86.3%" stop-color="#7d7d7d"/><stop offset="86.48%" stop-color="#5e5e5e"/><stop offset="86.65%" stop-color="#434343"/><stop offset="86.83%" stop-color="#1f1f1f"/><stop offset="87.01%" stop-color="#0a0a0a"/><stop offset="87.19%" stop-color="#020202"/><stop offset="87.37%" stop-color="#000000"/><stop offset="100%" stop-color="#000000"/></linearGradient>
<radialGradient id="grf" gradientUnits="userSpaceOnUse" cx="0" cy="0" r="150" gradientTransform="translate(532.3 451.55) scale(1 0.52)"><stop offset="0%" stop-color="#000" stop-opacity="0"/><stop offset="0.67%" stop-color="#000" stop-opacity="0"/><stop offset="1.33%" stop-color="#000" stop-opacity="0.001"/><stop offset="2%" stop-color="#000" stop-opacity="0.002"/><stop offset="2.67%" stop-color="#000" stop-opacity="0.004"/><stop offset="3.33%" stop-color="#000" stop-opacity="0.007"/><stop offset="4%" stop-color="#000" stop-opacity="0.01"/><stop offset="4.67%" stop-color="#000" stop-opacity="0.013"/><stop offset="5.33%" stop-color="#000" stop-opacity="0.017"/><stop offset="6%" stop-color="#000" stop-opacity="0.022"/><stop offset="6.67%" stop-color="#000" stop-opacity="0.027"/><stop offset="7.33%" stop-color="#000" stop-opacity="0.032"/><stop offset="8%" stop-color="#000" stop-opacity="0.038"/><stop offset="8.67%" stop-color="#000" stop-opacity="0.045"/><stop offset="9.33%" stop-color="#000" stop-opacity="0.052"/><stop offset="10%" stop-color="#000" stop-opacity="0.059"/><stop offset="10.67%" stop-color="#000" stop-opacity="0.067"/><stop offset="11.33%" stop-color="#000" stop-opacity="0.075"/><stop offset="12%" stop-color="#000" stop-opacity="0.084"/><stop offset="12.67%" stop-color="#000" stop-opacity="0.094"/><stop offset="13.33%" stop-color="#000" stop-opacity="0.103"/><stop offset="14%" stop-color="#000" stop-opacity="0.113"/><stop offset="14.67%" stop-color="#000" stop-opacity="0.124"/><stop offset="15.33%" stop-color="#000" stop-opacity="0.135"/><stop offset="16%" stop-color="#000" stop-opacity="0.146"/><stop offset="16.67%" stop-color="#000" stop-opacity="0.158"/><stop offset="17.33%" stop-color="#000" stop-opacity="0.17"/><stop offset="18%" stop-color="#000" stop-opacity="0.183"/><stop offset="18.67%" stop-color="#000" stop-opacity="0.196"/><stop offset="19.33%" stop-color="#000" stop-opacity="0.209"/><stop offset="20%" stop-color="#000" stop-opacity="0.222"/><stop offset="20.67%" stop-color="#000" stop-opacity="0.236"/><stop offset="21.33%" stop-color="#000" stop-opacity="0.25"/><stop offset="22%" stop-color="#000" stop-opacity="0.264"/><stop offset="22.67%" stop-color="#000" stop-opacity="0.279"/><stop offset="23.33%" stop-color="#000" stop-opacity="0.294"/><stop offset="24%" stop-color="#000" stop-opacity="0.309"/><stop offset="24.67%" stop-color="#000" stop-opacity="0.324"/><stop offset="25.33%" stop-color="#000" stop-opacity="0.339"/><stop offset="26%" stop-color="#000" stop-opacity="0.355"/><stop offset="26.67%" stop-color="#000" stop-opacity="0.371"/><stop offset="27.33%" stop-color="#000" stop-opacity="0.386"/><stop offset="28%" stop-color="#000" stop-opacity="0.402"/><stop offset="28.67%" stop-color="#000" stop-opacity="0.419"/><stop offset="29.33%" stop-color="#000" stop-opacity="0.435"/><stop offset="30%" stop-color="#000" stop-opacity="0.451"/><stop offset="30.67%" stop-color="#000" stop-opacity="0.467"/><stop offset="31.33%" stop-color="#000" stop-opacity="0.484"/><stop offset="32%" stop-color="#000" stop-opacity="0.5"/><stop offset="32.67%" stop-color="#000" stop-opacity="0.516"/><stop offset="33.33%" stop-color="#000" stop-opacity="0.533"/><stop offset="34%" stop-color="#000" stop-opacity="0.549"/><stop offset="34.67%" stop-color="#000" stop-opacity="0.565"/><stop offset="35.33%" stop-color="#000" stop-opacity="0.581"/><stop offset="36%" stop-color="#000" stop-opacity="0.598"/><stop offset="36.67%" stop-color="#000" stop-opacity="0.614"/><stop offset="37.33%" stop-color="#000" stop-opacity="0.629"/><stop offset="38%" stop-color="#000" stop-opacity="0.645"/><stop offset="38.67%" stop-color="#000" stop-opacity="0.661"/><stop offset="39.33%" stop-color="#000" stop-opacity="0.676"/><stop offset="40%" stop-color="#000" stop-opacity="0.691"/><stop offset="40.67%" stop-color="#000" stop-opacity="0.706"/><stop offset="41.33%" stop-color="#000" stop-opacity="0.721"/><stop offset="42%" stop-color="#000" stop-opacity="0.736"/><stop offset="42.67%" stop-color="#000" stop-opacity="0.75"/><stop offset="43.33%" stop-color="#000" stop-opacity="0.764"/><stop offset="44%" stop-color="#000" stop-opacity="0.778"/><stop offset="44.67%" stop-color="#000" stop-opacity="0.791"/><stop offset="45.33%" stop-color="#000" stop-opacity="0.804"/><stop offset="46%" stop-color="#000" stop-opacity="0.817"/><stop offset="46.67%" stop-color="#000" stop-opacity="0.83"/><stop offset="47.33%" stop-color="#000" stop-opacity="0.842"/><stop offset="48%" stop-color="#000" stop-opacity="0.854"/><stop offset="48.67%" stop-color="#000" stop-opacity="0.865"/><stop offset="49.33%" stop-color="#000" stop-opacity="0.876"/><stop offset="50%" stop-color="#000" stop-opacity="0.887"/><stop offset="50.67%" stop-color="#000" stop-opacity="0.897"/><stop offset="51.33%" stop-color="#000" stop-opacity="0.906"/><stop offset="52%" stop-color="#000" stop-opacity="0.916"/><stop offset="52.67%" stop-color="#000" stop-opacity="0.925"/><stop offset="53.33%" stop-color="#000" stop-opacity="0.933"/><stop offset="54%" stop-color="#000" stop-opacity="0.941"/><stop offset="54.67%" stop-color="#000" stop-opacity="0.948"/><stop offset="55.33%" stop-color="#000" stop-opacity="0.955"/><stop offset="56%" stop-color="#000" stop-opacity="0.962"/><stop offset="56.67%" stop-color="#000" stop-opacity="0.968"/><stop offset="57.33%" stop-color="#000" stop-opacity="0.973"/><stop offset="58%" stop-color="#000" stop-opacity="0.978"/><stop offset="58.67%" stop-color="#000" stop-opacity="0.983"/><stop offset="59.33%" stop-color="#000" stop-opacity="0.987"/><stop offset="60%" stop-color="#000" stop-opacity="0.99"/><stop offset="60.67%" stop-color="#000" stop-opacity="0.993"/><stop offset="61.33%" stop-color="#000" stop-opacity="0.996"/><stop offset="62%" stop-color="#000" stop-opacity="0.998"/><stop offset="62.67%" stop-color="#000" stop-opacity="0.999"/><stop offset="63.33%" stop-color="#000" stop-opacity="1"/><stop offset="100%" stop-color="#000" stop-opacity="1"/></radialGradient>
<clipPath id="cpf"><rect x="391.8" y="381.6" width="281" height="139.9"/></clipPath>
</defs>
<rect width="675" height="525" fill="#fff"/>
<text x="37.7" y="20" font-size="28" fill="#000" text-anchor="start" >(a)</text>
<text x="402.3" y="20" font-size="28" fill="#000" text-anchor="start" >(b)</text>
<text x="37.7" y="194.3" font-size="28" fill="#000" text-anchor="start" >(c)</text>
<text x="401.6" y="195.5" font-size="28" fill="#000" text-anchor="start" >(d)</text>
<text x="37.7" y="377.3" font-size="28" fill="#000" text-anchor="start" >(e)</text>
<text x="404.5" y="377.3" font-size="28" fill="#000" text-anchor="start" >(f)</text>
<g clip-path="url(#cpa)"><g filter="url(#jet)"><rect x="24" y="28" width="287" height="146" fill="url(#gxa)"/><rect x="24" y="28" width="287" height="146" fill="url(#gra)"/></g></g>
<line x1="245.8" y1="168.3" x2="301.8" y2="168.3" stroke="#fff" stroke-width="1.1"/>
<text x="277.2" y="166.8" font-size="10" fill="#fff" text-anchor="middle" >100 nm</text>
<g clip-path="url(#cpb)"><g filter="url(#jet)"><rect x="388" y="28" width="287" height="146" fill="url(#gxb)"/><rect x="388" y="28" width="287" height="146" fill="url(#grb)"/></g></g>
<line x1="609.8" y1="168.5" x2="666.4" y2="168.5" stroke="#fff" stroke-width="1.1"/>
<text x="641.5" y="166.8" font-size="10" fill="#fff" text-anchor="middle" >100 nm</text>
<g clip-path="url(#cpe)"><g filter="url(#jet)"><rect x="24" y="379" width="287" height="146" fill="url(#gxe)"/><rect x="24" y="379" width="287" height="146" fill="url(#gre)"/></g></g>
<circle cx="163.4" cy="452.5" r="1.4" fill="#fff"/><circle cx="171.1" cy="452.5" r="1.4" fill="#fff"/>
<text x="235.9" y="412.8" font-size="22" fill="#fff" text-anchor="start" >20 nm</text>
<g clip-path="url(#cpf)"><g filter="url(#jet)"><rect x="389" y="379" width="286" height="145" fill="url(#gxf)"/><rect x="389" y="379" width="286" height="145" fill="url(#grf)"/></g></g>
<circle cx="530.7" cy="452" r="1.45" fill="#fff"/><circle cx="533.8" cy="452" r="1.45" fill="#fff"/>
<text x="594.2" y="412.7" font-size="22" fill="#fff" text-anchor="start" >10 nm</text>
<rect x="26.7" y="204.2" width="287.2" height="140.4" fill="none" stroke="#c4c4c4" stroke-width="1.2"/>
<text x="54.22" y="355" font-size="10.3" fill="#000" text-anchor="middle" >-200</text>
<text x="111.66" y="355" font-size="10.3" fill="#000" text-anchor="middle" >-100</text>
<text x="170" y="355" font-size="10.3" fill="#000" text-anchor="middle" >0</text>
<text x="227.44" y="355" font-size="10.3" fill="#000" text-anchor="middle" >100</text>
<text x="284.88" y="355" font-size="10.3" fill="#000" text-anchor="middle" >200</text>
<text x="25.5" y="348" font-size="10.3" fill="#000" text-anchor="end" >0</text>
<text x="25.5" y="319.92" font-size="10.3" fill="#000" text-anchor="end" >0.2</text>
<text x="25.5" y="291.84" font-size="10.3" fill="#000" text-anchor="end" >0.4</text>
<text x="25.5" y="263.76" font-size="10.3" fill="#000" text-anchor="end" >0.6</text>
<text x="25.5" y="235.68" font-size="10.3" fill="#000" text-anchor="end" >0.8</text>
<text x="25.5" y="207.6" font-size="10.3" fill="#000" text-anchor="end" >1</text>
<path d="M55.42,344.6 v-3 M55.42,204.2 v3 M112.86,344.6 v-3 M112.86,204.2 v3 M170.3,344.6 v-3 M170.3,204.2 v3 M227.74,344.6 v-3 M227.74,204.2 v3 M285.18,344.6 v-3 M285.18,204.2 v3 M26.7,316.52 h3 M313.9,316.52 h-3 M26.7,288.44 h3 M313.9,288.44 h-3 M26.7,260.36 h3 M313.9,260.36 h-3 M26.7,232.28 h3 M313.9,232.28 h-3" stroke="#8c8c8c" stroke-width="0.8" fill="none"/>
<text x="169.8" y="364" font-size="10.3" fill="#000" text-anchor="middle" >(nm)</text>
<text transform="translate(9.3,274.3) rotate(-90)" font-size="10.4" text-anchor="middle" fill="#000">Normalized Intensity</text>
<path d="M26.7,344.6 28.14,344.57 29.57,344.47 31.01,344.32 32.44,344.12 33.88,343.89 35.32,343.62 36.75,343.32 38.19,343.01 39.62,342.68 41.06,342.35 42.5,341.99 43.93,341.55 45.37,341.05 46.8,340.49 48.24,339.88 49.68,339.23 51.11,338.54 52.55,337.82 53.98,337.07 55.42,336.3 56.86,335.46 58.29,334.55 59.73,333.57 61.16,332.53 62.6,331.44 64.04,330.29 65.47,329.1 66.91,327.86 68.34,326.59 69.78,325.26 71.22,323.85 72.65,322.34 74.09,320.75 75.52,319.09 76.96,317.37 78.4,315.59 79.83,313.77 81.27,311.91 82.7,310.03 84.14,308.1 85.58,306.07 87.01,303.94 88.45,301.74 89.88,299.49 91.32,297.22 92.76,294.94 94.19,292.67 95.63,290.43 97.06,288.25 98.5,286.14 99.94,284.07 101.37,282.02 102.81,279.97 104.24,277.92 105.68,275.83 107.12,273.7 108.55,271.5 109.99,269.26 111.42,266.98 112.86,264.67 114.3,262.34 115.73,260 117.17,257.66 118.6,255.33 120.04,253.02 121.48,250.74 122.91,248.51 124.35,246.32 125.78,244.16 127.22,241.98 128.66,239.81 130.09,237.65 131.53,235.51 132.96,233.41 134.4,231.34 135.84,229.33 137.27,227.38 138.71,225.5 140.14,223.71 141.58,221.99 143.02,220.32 144.45,218.7 145.89,217.15 147.32,215.69 148.76,214.33 150.2,213.09 151.63,211.89 153.07,210.72 154.5,209.63 155.94,208.64 157.38,207.8 158.81,207.15 160.25,206.6 161.68,206.07 163.12,205.57 164.56,205.13 165.99,204.75 167.43,204.45 168.86,204.27 170.3,204.2 171.74,204.27 173.17,204.45 174.61,204.75 176.04,205.13 177.48,205.57 178.92,206.07 180.35,206.6 181.79,207.15 183.22,207.8 184.66,208.64 186.1,209.63 187.53,210.72 188.97,211.89 190.4,213.09 191.84,214.33 193.28,215.69 194.71,217.15 196.15,218.7 197.58,220.32 199.02,221.99 200.46,223.71 201.89,225.5 203.33,227.38 204.76,229.33 206.2,231.34 207.64,233.41 209.07,235.51 210.51,237.65 211.94,239.81 213.38,241.98 214.82,244.16 216.25,246.32 217.69,248.51 219.12,250.74 220.56,253.02 222,255.33 223.43,257.66 224.87,260 226.3,262.34 227.74,264.67 229.18,266.98 230.61,269.26 232.05,271.5 233.48,273.7 234.92,275.83 236.36,277.92 237.79,279.97 239.23,282.02 240.66,284.07 242.1,286.14 243.54,288.25 244.97,290.43 246.41,292.67 247.84,294.94 249.28,297.22 250.72,299.49 252.15,301.74 253.59,303.94 255.02,306.07 256.46,308.1 257.9,310.03 259.33,311.91 260.77,313.77 262.2,315.59 263.64,317.37 265.08,319.09 266.51,320.75 267.95,322.34 269.38,323.85 270.82,325.26 272.26,326.59 273.69,327.86 275.13,329.1 276.56,330.29 278,331.44 279.44,332.53 280.87,333.57 282.31,334.55 283.74,335.46 285.18,336.3 286.62,337.07 288.05,337.82 289.49,338.54 290.92,339.23 292.36,339.88 293.8,340.49 295.23,341.05 296.67,341.55 298.1,341.99 299.54,342.35 300.98,342.68 302.41,343.01 303.85,343.32 305.28,343.62 306.72,343.89 308.16,344.12 309.59,344.32 311.03,344.47 312.46,344.57 313.9,344.6" stroke="#3636cc" stroke-width="1.3" fill="none" stroke-linejoin="round"/>
<path d="M26.7,344.6 27.1,344.6 27.5,344.6 27.91,344.59 28.31,344.59 28.71,344.58 29.11,344.58 29.52,344.57 29.92,344.56 30.32,344.55 30.72,344.54 31.12,344.53 31.53,344.53 31.93,344.52 32.33,344.52 32.73,344.52 33.14,344.52 33.54,344.52 33.94,344.52 34.34,344.53 34.74,344.54 35.15,344.55 35.55,344.56 35.95,344.57 36.35,344.58 36.76,344.59 37.16,344.6 37.56,344.6 37.96,344.6 38.36,344.59 38.77,344.58 39.17,344.56 39.57,344.53 39.97,344.5 40.38,344.46 40.78,344.41 41.18,344.35 41.58,344.29 41.99,344.22 42.39,344.14 42.79,344.06 43.19,343.98 43.59,343.89 44,343.79 44.4,343.7 44.8,343.61 45.2,343.52 45.61,343.44 46.01,343.37 46.41,343.3 46.81,343.25 47.21,343.21 47.62,343.18 48.02,343.17 48.42,343.18 48.82,343.2 49.23,343.24 49.63,343.3 50.03,343.37 50.43,343.46 50.83,343.56 51.24,343.67 51.64,343.79 52.04,343.92 52.44,344.04 52.85,344.16 53.25,344.28 53.65,344.38 54.05,344.47 54.45,344.54 54.86,344.58 55.26,344.6 55.66,344.59 56.06,344.54 56.47,344.46 56.87,344.35 57.27,344.19 57.67,344 58.07,343.78 58.48,343.52 58.88,343.22 59.28,342.9 59.68,342.55 60.09,342.19 60.49,341.81 60.89,341.42 61.29,341.03 61.69,340.65 62.1,340.29 62.5,339.94 62.9,339.63 63.3,339.35 63.71,339.12 64.11,338.93 64.51,338.81 64.91,338.74 65.32,338.73 65.72,338.79 66.12,338.91 66.52,339.09 66.92,339.33 67.33,339.64 67.73,339.99 68.13,340.38 68.53,340.81 68.94,341.27 69.34,341.73 69.74,342.21 70.14,342.67 70.54,343.11 70.95,343.51 71.35,343.87 71.75,344.17 72.15,344.39 72.56,344.54 72.96,344.6 73.36,344.56 73.76,344.41 74.16,344.16 74.57,343.8 74.97,343.33 75.37,342.75 75.77,342.07 76.18,341.3 76.58,340.44 76.98,339.51 77.38,338.53 77.78,337.5 78.19,336.45 78.59,335.4 78.99,334.37 79.39,333.37 79.8,332.43 80.2,331.57 80.6,330.8 81,330.14 81.4,329.62 81.81,329.24 82.21,329.01 82.61,328.95 83.01,329.04 83.42,329.31 83.82,329.73 84.22,330.31 84.62,331.04 85.02,331.9 85.43,332.87 85.83,333.94 86.23,335.08 86.63,336.27 87.04,337.48 87.44,338.69 87.84,339.85 88.24,340.96 88.65,341.96 89.05,342.84 89.45,343.57 89.85,344.12 90.25,344.47 90.66,344.6 91.06,344.5 91.46,344.16 91.86,343.59 92.27,342.77 92.67,341.72 93.07,340.46 93.47,339 93.87,337.36 94.28,335.57 94.68,333.66 95.08,331.68 95.48,329.64 95.89,327.6 96.29,325.59 96.69,323.66 97.09,321.85 97.49,320.18 97.9,318.7 98.3,317.45 98.7,316.43 99.1,315.69 99.51,315.24 99.91,315.09 100.31,315.24 100.71,315.7 101.11,316.45 101.52,317.49 101.92,318.8 102.32,320.34 102.72,322.09 103.13,324.02 103.53,326.07 103.93,328.22 104.33,330.41 104.73,332.59 105.14,334.72 105.54,336.75 105.94,338.64 106.34,340.32 106.75,341.78 107.15,342.96 107.55,343.85 107.95,344.4 108.35,344.6 108.76,344.44 109.16,343.91 109.56,343.01 109.96,341.76 110.37,340.16 110.77,338.24 111.17,336.04 111.57,333.59 111.98,330.94 112.38,328.13 112.78,325.21 113.18,322.24 113.58,319.28 113.99,316.39 114.39,313.63 114.79,311.04 115.19,308.69 115.6,306.62 116,304.88 116.4,303.51 116.8,302.53 117.2,301.97 117.61,301.84 118.01,302.16 118.41,302.91 118.81,304.09 119.22,305.67 119.62,307.62 120.02,309.91 120.42,312.49 120.82,315.3 121.23,318.28 121.63,321.39 122.03,324.54 122.43,327.67 122.84,330.71 123.24,333.6 123.64,336.26 124.04,338.64 124.44,340.69 124.85,342.34 125.25,343.57 125.65,344.33 126.05,344.6 126.46,344.37 126.86,343.63 127.26,342.39 127.66,340.67 128.06,338.48 128.47,335.88 128.87,332.9 129.27,329.6 129.67,326.03 130.08,322.28 130.48,318.4 130.88,314.49 131.28,310.6 131.68,306.82 132.09,303.24 132.49,299.91 132.89,296.91 133.29,294.3 133.7,292.14 134.1,290.47 134.5,289.34 134.9,288.76 135.31,288.74 135.71,289.31 136.11,290.44 136.51,292.11 136.91,294.29 137.32,296.95 137.72,300.02 138.12,303.44 138.52,307.15 138.93,311.06 139.33,315.1 139.73,319.18 140.13,323.21 140.53,327.1 140.94,330.78 141.34,334.16 141.74,337.17 142.14,339.74 142.55,341.81 142.95,343.33 143.35,344.27 143.75,344.6 144.15,344.3 144.56,343.38 144.96,341.85 145.36,339.72 145.76,337.05 146.17,333.88 146.57,330.26 146.97,326.27 147.37,321.99 147.77,317.5 148.18,312.89 148.58,308.24 148.98,303.66 149.38,299.23 149.79,295.05 150.19,291.19 150.59,287.73 150.99,284.73 151.39,282.26 151.8,280.37 152.2,279.09 152.6,278.44 153,278.44 153.41,279.08 153.81,280.36 154.21,282.25 154.61,284.72 155.01,287.7 155.42,291.16 155.82,295.03 156.22,299.23 156.62,303.68 157.03,308.32 157.43,313.04 157.83,317.76 158.23,322.38 158.64,326.82 159.04,330.98 159.44,334.75 159.84,338.05 160.24,340.78 160.65,342.84 161.05,344.14 161.45,344.6 161.85,342.32 162.26,338.38 162.66,333.36 163.06,327.43 163.46,320.7 163.86,313.27 164.27,305.23 164.67,296.7 165.07,287.79 165.47,278.63 165.88,269.35 166.28,260.12 166.68,251.09 167.08,242.43 167.48,234.29 167.89,226.85 168.29,220.26 168.69,214.66 169.09,210.16 169.5,206.87 169.9,204.87 170.3,204.2 170.7,204.87 171.1,206.87 171.51,210.16 171.91,214.66 172.31,220.26 172.71,226.85 173.12,234.29 173.52,242.43 173.92,251.09 174.32,260.12 174.72,269.35 175.13,278.63 175.53,287.79 175.93,296.7 176.33,305.23 176.74,313.27 177.14,320.7 177.54,327.43 177.94,333.36 178.34,338.38 178.75,342.32 179.15,344.6 179.55,344.14 179.95,342.84 180.36,340.78 180.76,338.05 181.16,334.75 181.56,330.98 181.96,326.82 182.37,322.38 182.77,317.76 183.17,313.04 183.57,308.32 183.98,303.68 184.38,299.23 184.78,295.03 185.18,291.16 185.59,287.7 185.99,284.72 186.39,282.25 186.79,280.36 187.19,279.08 187.6,278.44 188,278.44 188.4,279.09 188.8,280.37 189.21,282.26 189.61,284.73 190.01,287.73 190.41,291.19 190.81,295.05 191.22,299.23 191.62,303.66 192.02,308.24 192.42,312.89 192.83,317.5 193.23,321.99 193.63,326.27 194.03,330.26 194.43,333.88 194.84,337.05 195.24,339.72 195.64,341.85 196.04,343.38 196.45,344.3 196.85,344.6 197.25,344.27 197.65,343.33 198.05,341.81 198.46,339.74 198.86,337.17 199.26,334.16 199.66,330.78 200.07,327.1 200.47,323.21 200.87,319.18 201.27,315.1 201.67,311.06 202.08,307.15 202.48,303.44 202.88,300.02 203.28,296.95 203.69,294.29 204.09,292.11 204.49,290.44 204.89,289.31 205.29,288.74 205.7,288.76 206.1,289.34 206.5,290.47 206.9,292.14 207.31,294.3 207.71,296.91 208.11,299.91 208.51,303.24 208.92,306.82 209.32,310.6 209.72,314.49 210.12,318.4 210.52,322.28 210.93,326.03 211.33,329.6 211.73,332.9 212.13,335.88 212.54,338.48 212.94,340.67 213.34,342.39 213.74,343.63 214.14,344.37 214.55,344.6 214.95,344.33 215.35,343.57 215.75,342.34 216.16,340.69 216.56,338.64 216.96,336.26 217.36,333.6 217.76,330.71 218.17,327.67 218.57,324.54 218.97,321.39 219.37,318.28 219.78,315.3 220.18,312.49 220.58,309.91 220.98,307.62 221.38,305.67 221.79,304.09 222.19,302.91 222.59,302.16 222.99,301.84 223.4,301.97 223.8,302.53 224.2,303.51 224.6,304.88 225,306.62 225.41,308.69 225.81,311.04 226.21,313.63 226.61,316.39 227.02,319.28 227.42,322.24 227.82,325.21 228.22,328.13 228.62,330.94 229.03,333.59 229.43,336.04 229.83,338.24 230.23,340.16 230.64,341.76 231.04,343.01 231.44,343.91 231.84,344.44 232.25,344.6 232.65,344.4 233.05,343.85 233.45,342.96 233.85,341.78 234.26,340.32 234.66,338.64 235.06,336.75 235.46,334.72 235.87,332.59 236.27,330.41 236.67,328.22 237.07,326.07 237.47,324.02 237.88,322.09 238.28,320.34 238.68,318.8 239.08,317.49 239.49,316.45 239.89,315.7 240.29,315.24 240.69,315.09 241.09,315.24 241.5,315.69 241.9,316.43 242.3,317.45 242.7,318.7 243.11,320.18 243.51,321.85 243.91,323.66 244.31,325.59 244.71,327.6 245.12,329.64 245.52,331.68 245.92,333.66 246.32,335.57 246.73,337.36 247.13,339 247.53,340.46 247.93,341.72 248.33,342.77 248.74,343.59 249.14,344.16 249.54,344.5 249.94,344.6 250.35,344.47 250.75,344.12 251.15,343.57 251.55,342.84 251.95,341.96 252.36,340.96 252.76,339.85 253.16,338.69 253.56,337.48 253.97,336.27 254.37,335.08 254.77,333.94 255.17,332.87 255.58,331.9 255.98,331.04 256.38,330.31 256.78,329.73 257.18,329.31 257.59,329.04 257.99,328.95 258.39,329.01 258.79,329.24 259.2,329.62 259.6,330.14 260,330.8 260.4,331.57 260.8,332.43 261.21,333.37 261.61,334.37 262.01,335.4 262.41,336.45 262.82,337.5 263.22,338.53 263.62,339.51 264.02,340.44 264.42,341.3 264.83,342.07 265.23,342.75 265.63,343.33 266.03,343.8 266.44,344.16 266.84,344.41 267.24,344.56 267.64,344.6 268.04,344.54 268.45,344.39 268.85,344.17 269.25,343.87 269.65,343.51 270.06,343.11 270.46,342.67 270.86,342.21 271.26,341.73 271.66,341.27 272.07,340.81 272.47,340.38 272.87,339.99 273.27,339.64 273.68,339.33 274.08,339.09 274.48,338.91 274.88,338.79 275.28,338.73 275.69,338.74 276.09,338.81 276.49,338.93 276.89,339.12 277.3,339.35 277.7,339.63 278.1,339.94 278.5,340.29 278.91,340.65 279.31,341.03 279.71,341.42 280.11,341.81 280.51,342.19 280.92,342.55 281.32,342.9 281.72,343.22 282.12,343.52 282.53,343.78 282.93,344 283.33,344.19 283.73,344.35 284.13,344.46 284.54,344.54 284.94,344.59 285.34,344.6 285.74,344.58 286.15,344.54 286.55,344.47 286.95,344.38 287.35,344.28 287.75,344.16 288.16,344.04 288.56,343.92 288.96,343.79 289.36,343.67 289.77,343.56 290.17,343.46 290.57,343.37 290.97,343.3 291.37,343.24 291.78,343.2 292.18,343.18 292.58,343.17 292.98,343.18 293.39,343.21 293.79,343.25 294.19,343.3 294.59,343.37 294.99,343.44 295.4,343.52 295.8,343.61 296.2,343.7 296.6,343.79 297.01,343.89 297.41,343.98 297.81,344.06 298.21,344.14 298.61,344.22 299.02,344.29 299.42,344.35 299.82,344.41 300.22,344.46 300.63,344.5 301.03,344.53 301.43,344.56 301.83,344.58 302.24,344.59 302.64,344.6 303.04,344.6 303.44,344.6 303.84,344.59 304.25,344.58 304.65,344.57 305.05,344.56 305.45,344.55 305.86,344.54 306.26,344.53 306.66,344.52 307.06,344.52 307.46,344.52 307.87,344.52 308.27,344.52 308.67,344.52 309.07,344.53 309.48,344.53 309.88,344.54 310.28,344.55 310.68,344.56 311.08,344.57 311.49,344.58 311.89,344.58 312.29,344.59 312.69,344.59 313.1,344.6 313.5,344.6 313.9,344.6" stroke="#e44444" stroke-width="1.15" fill="none" stroke-linejoin="round"/>
<path d="M107.69,275.5 H232.91" stroke="#5a5ad8" stroke-width="0.8" fill="none"/>
<path d="M107.69,275.5 l3.5,-1.7 v3.4 z M232.91,275.5 l-3.5,-1.7 v3.4 z" fill="#3636cc"/>
<path d="M166.2,275.8 H175" stroke="#e44444" stroke-width="0.9" fill="none"/>
<path d="M166.2,275.8 l2.6,-1.4 v2.8 z M175,275.8 l-2.6,-1.4 v2.8 z" fill="#c02020"/>
<text x="117.3" y="274.3" font-size="10.3" fill="#3636cc" text-anchor="start" >218 nm</text>
<text x="163.2" y="274.3" font-size="10.3" fill="#e44444" text-anchor="start" >16 nm</text>
<rect x="392.2" y="203.5" width="277.6" height="140.4" fill="none" stroke="#c4c4c4" stroke-width="1.2"/>
<text x="418.3" y="353.4" font-size="10.3" fill="#000" text-anchor="middle" >-200</text>
<text x="473.95" y="353.4" font-size="10.3" fill="#000" text-anchor="middle" >-100</text>
<text x="530.8" y="353.4" font-size="10.3" fill="#000" text-anchor="middle" >0</text>
<text x="586.45" y="353.4" font-size="10.3" fill="#000" text-anchor="middle" >100</text>
<text x="642.1" y="353.4" font-size="10.3" fill="#000" text-anchor="middle" >200</text>
<path d="M419.5,343.9 v-3 M419.5,203.5 v3 M475.15,343.9 v-3 M475.15,203.5 v3 M530.8,343.9 v-3 M530.8,203.5 v3 M586.45,343.9 v-3 M586.45,203.5 v3 M642.1,343.9 v-3" stroke="#8c8c8c" stroke-width="0.8" fill="none"/>
<text x="530.6" y="362" font-size="10.3" fill="#000" text-anchor="middle" >Position (nm)</text>
<text transform="translate(388.6,273.6) rotate(-90)" font-size="10.1" text-anchor="middle" fill="#000">Intensity (A.U.)</text>
<path d="M392.23,343.3 392.68,343.3 393.12,343.3 393.58,343.3 394.02,343.3 394.48,343.3 394.93,343.3 395.38,343.3 395.83,343.3 396.27,343.29 396.73,343.29 397.18,343.28 397.62,343.28 398.08,343.27 398.52,343.26 398.98,343.26 399.43,343.25 399.88,343.24 400.33,343.23 400.77,343.22 401.23,343.21 401.68,343.2 402.12,343.19 402.58,343.18 403.03,343.18 403.48,343.17 403.93,343.17 404.38,343.16 404.83,343.16 405.28,343.15 405.73,343.15 406.18,343.14 406.62,343.14 407.08,343.13 407.53,343.13 407.98,343.12 408.43,343.11 408.88,343.09 409.33,343.08 409.78,343.06 410.23,343.04 410.68,343.02 411.12,343 411.58,342.98 412.03,342.95 412.48,342.92 412.93,342.9 413.38,342.87 413.83,342.85 414.28,342.82 414.73,342.8 415.18,342.79 415.62,342.77 416.08,342.76 416.53,342.75 416.98,342.74 417.43,342.74 417.88,342.73 418.33,342.72 418.78,342.71 419.23,342.7 419.68,342.68 420.12,342.65 420.58,342.62 421.03,342.58 421.48,342.53 421.93,342.47 422.38,342.4 422.83,342.33 423.28,342.25 423.73,342.17 424.18,342.08 424.62,342 425.08,341.91 425.53,341.83 425.98,341.75 426.43,341.68 426.88,341.63 427.33,341.58 427.78,341.55 428.23,341.53 428.68,341.52 429.12,341.53 429.58,341.56 430.03,341.59 430.48,341.65 430.93,341.71 431.38,341.79 431.83,341.87 432.28,341.96 432.73,342.05 433.18,342.14 433.62,342.22 434.08,342.3 434.53,342.36 434.98,342.41 435.43,342.44 435.88,342.45 436.33,342.43 436.78,342.39 437.23,342.32 437.68,342.23 438.12,342.11 438.58,341.97 439.03,341.81 439.48,341.63 439.93,341.43 440.38,341.22 440.83,341.01 441.28,340.8 441.73,340.59 442.18,340.39 442.62,340.2 443.08,340.04 443.53,339.9 443.98,339.79 444.43,339.71 444.88,339.67 445.33,339.67 445.78,339.7 446.23,339.76 446.68,339.86 447.12,340 447.58,340.16 448.03,340.34 448.48,340.55 448.93,340.76 449.38,340.98 449.83,341.2 450.28,341.41 450.73,341.61 451.18,341.78 451.62,341.93 452.08,342.04 452.53,342.11 452.98,342.14 453.43,342.12 453.88,342.06 454.33,341.95 454.78,341.8 455.23,341.6 455.68,341.36 456.12,341.08 456.58,340.78 457.03,340.45 457.48,340.11 457.93,339.76 458.38,339.41 458.83,339.07 459.28,338.74 459.73,338.45 460.18,338.19 460.62,337.97 461.08,337.79 461.53,337.67 461.98,337.61 462.43,337.6 462.88,337.65 463.33,337.76 463.78,337.92 464.23,338.13 464.68,338.39 465.12,338.69 465.58,339.02 466.03,339.37 466.48,339.73 466.93,340.09 467.38,340.44 467.83,340.76 468.28,341.06 468.73,341.31 469.18,341.51 469.62,341.65 470.08,341.72 470.53,341.71 470.98,341.63 471.43,341.48 471.88,341.24 472.33,340.93 472.78,340.56 473.23,340.12 473.68,339.63 474.12,339.11 474.58,338.55 475.03,337.98 475.48,337.41 475.93,336.85 476.38,336.32 476.83,335.83 477.28,335.41 477.73,335.04 478.18,334.76 478.62,334.57 479.08,334.46 479.53,334.45 479.98,334.54 480.43,334.72 480.88,334.98 481.33,335.33 481.78,335.75 482.23,336.23 482.68,336.76 483.12,337.32 483.58,337.9 484.03,338.48 484.48,339.04 484.93,339.56 485.38,340.03 485.83,340.44 486.28,340.77 486.73,341 487.18,341.13 487.62,341.16 488.08,341.07 488.53,340.87 488.98,340.56 489.43,340.15 489.88,339.64 490.33,339.04 490.78,338.38 491.23,337.66 491.68,336.9 492.12,336.13 492.58,335.36 493.03,334.62 493.48,333.91 493.93,333.27 494.38,332.71 494.83,332.24 495.28,331.88 495.73,331.63 496.18,331.51 496.62,331.52 497.08,331.65 497.53,331.9 497.98,332.27 498.43,332.74 498.88,333.3 499.33,333.94 499.78,334.63 500.23,335.36 500.68,336.12 501.12,336.86 501.58,337.59 502.03,338.26 502.48,338.88 502.93,339.4 503.38,339.83 503.83,340.14 504.28,340.33 504.73,340.4 505.18,340.32 505.62,340.11 506.08,339.78 506.53,339.32 506.98,338.75 507.43,338.08 507.88,337.34 508.33,336.53 508.78,335.69 509.23,334.83 509.68,333.98 510.12,333.15 510.58,332.38 511.03,331.68 511.48,331.07 511.93,330.56 512.38,330.18 512.83,329.93 513.27,329.81 513.73,329.83 514.18,329.98 514.62,330.27 515.08,330.68 515.52,331.19 515.98,331.8 516.43,332.49 516.88,333.23 517.33,334.01 517.77,334.81 518.23,335.59 518.68,336.34 519.12,337.04 519.58,337.66 520.02,338.18 520.48,338.57 520.93,338.82 521.38,338.9 521.83,338.78 522.27,338.48 522.73,338.11 523.18,337.64 523.62,337.03 524.08,336.23 524.52,335.19 524.98,333.88 525.43,332.27 525.88,330.35 526.33,328.13 526.77,325.65 527.23,322.97 527.68,320.2 528.12,317.46 528.58,314.87 529.02,312.59 529.48,310.75 529.93,309.45 530.38,308.78 530.83,308.78 531.27,309.45 531.73,310.75 532.18,312.59 532.62,314.87 533.08,317.46 533.52,320.2 533.98,322.97 534.43,325.65 534.88,328.13 535.33,330.35 535.77,332.27 536.23,333.88 536.68,335.19 537.12,336.23 537.58,337.03 538.02,337.64 538.48,338.11 538.93,338.48 539.38,338.78 539.83,338.9 540.27,338.82 540.73,338.57 541.18,338.18 541.62,337.66 542.08,337.04 542.52,336.34 542.98,335.59 543.43,334.81 543.88,334.01 544.33,333.23 544.77,332.49 545.23,331.8 545.68,331.19 546.12,330.68 546.58,330.27 547.02,329.98 547.48,329.83 547.93,329.81 548.38,329.93 548.83,330.18 549.27,330.56 549.73,331.07 550.18,331.68 550.62,332.38 551.08,333.15 551.52,333.98 551.98,334.83 552.43,335.69 552.88,336.53 553.33,337.34 553.77,338.08 554.23,338.75 554.68,339.32 555.12,339.78 555.58,340.11 556.02,340.32 556.48,340.4 556.93,340.33 557.38,340.14 557.83,339.83 558.27,339.4 558.73,338.88 559.18,338.26 559.62,337.59 560.08,336.86 560.52,336.12 560.98,335.36 561.43,334.63 561.88,333.94 562.33,333.3 562.77,332.74 563.23,332.27 563.68,331.9 564.12,331.65 564.58,331.52 565.02,331.51 565.48,331.63 565.93,331.88 566.38,332.24 566.83,332.71 567.27,333.27 567.73,333.91 568.18,334.62 568.62,335.36 569.08,336.13 569.52,336.9 569.98,337.66 570.43,338.38 570.88,339.04 571.33,339.64 571.77,340.15 572.23,340.56 572.68,340.87 573.12,341.07 573.58,341.16 574.02,341.13 574.48,341 574.93,340.77 575.38,340.44 575.83,340.03 576.27,339.56 576.73,339.04 577.18,338.48 577.62,337.9 578.08,337.32 578.52,336.76 578.98,336.23 579.43,335.75 579.88,335.33 580.33,334.98 580.77,334.72 581.23,334.54 581.68,334.45 582.12,334.46 582.58,334.57 583.02,334.76 583.48,335.04 583.93,335.41 584.38,335.83 584.83,336.32 585.27,336.85 585.73,337.41 586.18,337.98 586.62,338.55 587.08,339.11 587.52,339.63 587.98,340.12 588.43,340.56 588.88,340.93 589.33,341.24 589.77,341.48 590.23,341.63 590.68,341.71 591.12,341.72 591.58,341.65 592.02,341.51 592.48,341.31 592.93,341.06 593.38,340.76 593.83,340.44 594.27,340.09 594.73,339.73 595.18,339.37 595.62,339.02 596.08,338.69 596.52,338.39 596.98,338.13 597.43,337.92 597.88,337.76 598.33,337.65 598.77,337.6 599.23,337.61 599.68,337.67 600.12,337.79 600.58,337.97 601.02,338.19 601.48,338.45 601.93,338.74 602.38,339.07 602.83,339.41 603.27,339.76 603.73,340.11 604.18,340.45 604.62,340.78 605.08,341.08 605.52,341.36 605.98,341.6 606.43,341.8 606.88,341.95 607.33,342.06 607.77,342.12 608.23,342.14 608.68,342.11 609.12,342.04 609.58,341.93 610.02,341.78 610.48,341.61 610.93,341.41 611.38,341.2 611.83,340.98 612.27,340.76 612.73,340.55 613.18,340.34 613.62,340.16 614.08,340 614.52,339.86 614.98,339.76 615.43,339.7 615.88,339.67 616.33,339.67 616.77,339.71 617.23,339.79 617.68,339.9 618.12,340.04 618.58,340.2 619.02,340.39 619.48,340.59 619.93,340.8 620.38,341.01 620.83,341.22 621.27,341.43 621.73,341.63 622.18,341.81 622.62,341.97 623.08,342.11 623.52,342.23 623.98,342.32 624.43,342.39 624.88,342.43 625.33,342.45 625.77,342.44 626.23,342.41 626.68,342.36 627.12,342.3 627.58,342.22 628.02,342.14 628.48,342.05 628.93,341.96 629.38,341.87 629.83,341.79 630.27,341.71 630.73,341.65 631.18,341.59 631.62,341.56 632.08,341.53 632.52,341.52 632.98,341.53 633.43,341.55 633.88,341.58 634.33,341.63 634.77,341.68 635.23,341.75 635.68,341.83 636.12,341.91 636.58,342 637.02,342.08 637.48,342.17 637.93,342.25 638.38,342.33 638.83,342.4 639.27,342.47 639.73,342.53 640.18,342.58 640.62,342.62 641.08,342.65 641.52,342.68 641.98,342.7 642.43,342.71 642.88,342.72 643.33,342.73 643.77,342.74 644.23,342.74 644.68,342.75 645.12,342.76 645.58,342.77 646.02,342.79 646.48,342.8 646.93,342.82 647.38,342.85 647.83,342.87 648.27,342.9 648.73,342.92 649.18,342.95 649.62,342.98 650.08,343 650.52,343.02 650.98,343.04 651.43,343.06 651.88,343.08 652.33,343.09 652.77,343.11 653.23,343.12 653.68,343.13 654.12,343.13 654.58,343.14 655.02,343.14 655.48,343.15 655.93,343.15 656.38,343.16 656.83,343.16 657.27,343.17 657.73,343.17 658.18,343.18 658.62,343.18 659.08,343.19 659.52,343.2 659.98,343.21 660.43,343.22 660.88,343.23 661.33,343.24 661.77,343.25 662.23,343.26 662.68,343.26 663.12,343.27 663.58,343.28 664.02,343.28 664.48,343.29 664.93,343.29 665.38,343.3 665.83,343.3 666.27,343.3 666.73,343.3 667.18,343.3 667.62,343.3 668.08,343.3 668.52,343.3 668.98,343.3" stroke="#2c2ccc" stroke-width="1.12" fill="none" stroke-linejoin="round"/>
<path d="M392.23,333.2 392.68,333.2 393.12,333.2 393.58,333.2 394.02,333.2 394.48,333.2 394.93,333.2 395.38,333.2 395.83,333.2 396.27,333.2 396.73,333.2 397.18,333.2 397.62,333.2 398.08,333.2 398.52,333.2 398.98,333.2 399.43,333.2 399.88,333.2 400.33,333.2 400.77,333.2 401.23,333.2 401.68,333.2 402.12,333.2 402.58,333.19 403.03,333.19 403.48,333.18 403.93,333.18 404.38,333.17 404.83,333.16 405.28,333.16 405.73,333.15 406.18,333.13 406.62,333.12 407.08,333.11 407.53,333.09 407.98,333.07 408.43,333.05 408.88,333.03 409.33,333.01 409.78,332.98 410.23,332.96 410.68,332.93 411.12,332.9 411.58,332.87 412.03,332.84 412.48,332.81 412.93,332.77 413.38,332.74 413.83,332.7 414.28,332.66 414.73,332.62 415.18,332.58 415.62,332.54 416.08,332.5 416.53,332.45 416.98,332.41 417.43,332.37 417.88,332.32 418.33,332.28 418.78,332.23 419.23,332.19 419.68,332.14 420.12,332.1 420.58,332.06 421.03,332.01 421.48,331.97 421.93,331.93 422.38,331.89 422.83,331.85 423.28,331.82 423.73,331.78 424.18,331.75 424.62,331.73 425.08,331.69 425.53,331.63 425.98,331.57 426.43,331.52 426.88,331.46 427.33,331.41 427.78,331.35 428.23,331.29 428.68,331.23 429.12,331.17 429.58,331.11 430.03,331.05 430.48,330.98 430.93,330.92 431.38,330.85 431.83,330.78 432.28,330.71 432.73,330.64 433.18,330.57 433.62,330.5 434.08,330.43 434.53,330.36 434.98,330.29 435.43,330.23 435.88,330.16 436.33,330.1 436.78,330.04 437.23,329.99 437.68,329.93 438.12,329.88 438.58,329.83 439.03,329.79 439.48,329.74 439.93,329.7 440.38,329.66 440.83,329.62 441.28,329.58 441.73,329.54 442.18,329.5 442.62,329.46 443.08,329.41 443.53,329.37 443.98,329.32 444.43,329.26 444.88,329.2 445.33,329.14 445.78,329.08 446.23,329 446.68,328.93 447.12,328.85 447.58,328.77 448.03,328.69 448.48,328.6 448.93,328.51 449.38,328.42 449.83,328.33 450.28,328.24 450.73,328.16 451.18,328.07 451.62,327.99 452.08,327.92 452.53,327.85 452.98,327.78 453.43,327.72 453.88,327.66 454.33,327.61 454.78,327.57 455.23,327.53 455.68,327.49 456.12,327.46 456.58,327.44 457.03,327.42 457.48,327.39 457.93,327.37 458.38,327.35 458.83,327.33 459.28,327.31 459.73,327.28 460.18,327.25 460.62,327.21 461.08,327.17 461.53,327.12 461.98,327.06 462.43,326.99 462.88,326.92 463.33,326.84 463.78,326.76 464.23,326.66 464.68,326.57 465.12,326.46 465.58,326.36 466.03,326.25 466.48,326.14 466.93,326.03 467.38,325.93 467.83,325.82 468.28,325.73 468.73,325.63 469.18,325.55 469.62,325.47 470.08,325.39 470.53,325.33 470.98,325.28 471.43,325.23 471.88,325.2 472.33,325.17 472.78,325.15 473.23,325.13 473.68,325.12 474.12,325.12 474.58,325.12 475.03,325.12 475.48,325.12 475.93,325.11 476.38,325.11 476.83,325.09 477.28,325.08 477.73,325.05 478.18,325.01 478.62,324.97 479.08,324.91 479.53,324.85 479.98,324.77 480.43,324.69 480.88,324.59 481.33,324.48 481.78,324.37 482.23,324.25 482.68,324.13 483.12,324 483.58,323.87 484.03,323.75 484.48,323.62 484.93,323.5 485.38,323.38 485.83,323.28 486.28,323.18 486.73,323.09 487.18,323.01 487.62,322.95 488.08,322.89 488.53,322.85 488.98,322.82 489.43,322.8 489.88,322.79 490.33,322.79 490.78,322.8 491.23,322.82 491.68,322.83 492.12,322.85 492.58,322.87 493.03,322.89 493.48,322.9 493.93,322.9 494.38,322.9 494.83,322.88 495.28,322.86 495.73,322.82 496.18,322.77 496.62,322.7 497.08,322.63 497.53,322.53 497.98,322.43 498.43,322.31 498.88,322.19 499.33,322.05 499.78,321.91 500.23,321.76 500.68,321.61 501.12,321.47 501.58,321.32 502.03,321.18 502.48,321.05 502.93,320.93 503.38,320.81 503.83,320.72 504.28,320.63 504.73,320.56 505.18,320.5 505.62,320.46 506.08,320.44 506.53,320.43 506.98,320.43 507.43,320.45 507.88,320.47 508.33,320.5 508.78,320.54 509.23,320.57 509.68,320.61 510.12,320.65 510.58,320.68 511.03,320.7 511.48,320.71 511.93,320.7 512.38,320.67 512.83,320.6 513.27,320.51 513.73,320.39 514.18,320.26 514.62,320.11 515.08,319.96 515.52,319.82 515.98,319.68 516.43,319.55 516.88,319.42 517.33,319.29 517.77,319.14 518.23,318.95 518.68,318.71 519.12,318.38 519.58,317.93 520.02,317.31 520.48,316.49 520.93,315.4 521.38,314.02 521.83,312.34 522.27,310.41 522.73,308.35 523.18,306.29 523.62,304.34 524.08,302.61 524.52,301.15 524.98,299.99 525.43,299.13 525.88,298.57 526.33,298.28 526.77,298.22 527.23,298.31 527.68,298.5 528.12,298.75 528.58,299.01 529.02,299.27 529.48,299.5 529.93,299.67 530.38,299.73 530.83,299.73 531.27,299.67 531.73,299.5 532.18,299.27 532.62,299.01 533.08,298.75 533.52,298.5 533.98,298.31 534.43,298.22 534.88,298.28 535.33,298.57 535.77,299.13 536.23,299.99 536.68,301.15 537.12,302.61 537.58,304.34 538.02,306.29 538.48,308.35 538.93,310.41 539.38,312.34 539.83,314.02 540.27,315.4 540.73,316.49 541.18,317.31 541.62,317.93 542.08,318.38 542.52,318.71 542.98,318.95 543.43,319.14 543.88,319.29 544.33,319.42 544.77,319.55 545.23,319.68 545.68,319.82 546.12,319.96 546.58,320.11 547.02,320.26 547.48,320.39 547.93,320.51 548.38,320.6 548.83,320.67 549.27,320.7 549.73,320.71 550.18,320.7 550.62,320.68 551.08,320.65 551.52,320.61 551.98,320.57 552.43,320.54 552.88,320.5 553.33,320.47 553.77,320.45 554.23,320.43 554.68,320.43 555.12,320.44 555.58,320.46 556.02,320.5 556.48,320.56 556.93,320.63 557.38,320.72 557.83,320.81 558.27,320.93 558.73,321.05 559.18,321.18 559.62,321.32 560.08,321.47 560.52,321.61 560.98,321.76 561.43,321.91 561.88,322.05 562.33,322.19 562.77,322.31 563.23,322.43 563.68,322.53 564.12,322.63 564.58,322.7 565.02,322.77 565.48,322.82 565.93,322.86 566.38,322.88 566.83,322.9 567.27,322.9 567.73,322.9 568.18,322.89 568.62,322.87 569.08,322.85 569.52,322.83 569.98,322.82 570.43,322.8 570.88,322.79 571.33,322.79 571.77,322.8 572.23,322.82 572.68,322.85 573.12,322.89 573.58,322.95 574.02,323.01 574.48,323.09 574.93,323.18 575.38,323.28 575.83,323.38 576.27,323.5 576.73,323.62 577.18,323.75 577.62,323.87 578.08,324 578.52,324.13 578.98,324.25 579.43,324.37 579.88,324.48 580.33,324.59 580.77,324.69 581.23,324.77 581.68,324.85 582.12,324.91 582.58,324.97 583.02,325.01 583.48,325.05 583.93,325.08 584.38,325.09 584.83,325.11 585.27,325.11 585.73,325.12 586.18,325.12 586.62,325.12 587.08,325.12 587.52,325.12 587.98,325.13 588.43,325.15 588.88,325.17 589.33,325.2 589.77,325.23 590.23,325.28 590.68,325.33 591.12,325.39 591.58,325.47 592.02,325.55 592.48,325.63 592.93,325.73 593.38,325.82 593.83,325.93 594.27,326.03 594.73,326.14 595.18,326.25 595.62,326.36 596.08,326.46 596.52,326.57 596.98,326.66 597.43,326.76 597.88,326.84 598.33,326.92 598.77,326.99 599.23,327.06 599.68,327.12 600.12,327.17 600.58,327.21 601.02,327.25 601.48,327.28 601.93,327.31 602.38,327.33 602.83,327.35 603.27,327.37 603.73,327.39 604.18,327.42 604.62,327.44 605.08,327.46 605.52,327.49 605.98,327.53 606.43,327.57 606.88,327.61 607.33,327.66 607.77,327.72 608.23,327.78 608.68,327.85 609.12,327.92 609.58,327.99 610.02,328.07 610.48,328.16 610.93,328.24 611.38,328.33 611.83,328.42 612.27,328.51 612.73,328.6 613.18,328.69 613.62,328.77 614.08,328.85 614.52,328.93 614.98,329 615.43,329.08 615.88,329.14 616.33,329.2 616.77,329.26 617.23,329.32 617.68,329.37 618.12,329.41 618.58,329.46 619.02,329.5 619.48,329.54 619.93,329.58 620.38,329.62 620.83,329.66 621.27,329.7 621.73,329.74 622.18,329.79 622.62,329.83 623.08,329.88 623.52,329.93 623.98,329.99 624.43,330.04 624.88,330.1 625.33,330.16 625.77,330.23 626.23,330.29 626.68,330.36 627.12,330.43 627.58,330.5 628.02,330.57 628.48,330.64 628.93,330.71 629.38,330.78 629.83,330.85 630.27,330.92 630.73,330.98 631.18,331.05 631.62,331.11 632.08,331.17 632.52,331.23 632.98,331.29 633.43,331.35 633.88,331.41 634.33,331.46 634.77,331.52 635.23,331.57 635.68,331.63 636.12,331.69 636.58,331.73 637.02,331.75 637.48,331.78 637.93,331.82 638.38,331.85 638.83,331.89 639.27,331.93 639.73,331.97 640.18,332.01 640.62,332.06 641.08,332.1 641.52,332.14 641.98,332.19 642.43,332.23 642.88,332.28 643.33,332.32 643.77,332.37 644.23,332.41 644.68,332.45 645.12,332.5 645.58,332.54 646.02,332.58 646.48,332.62 646.93,332.66 647.38,332.7 647.83,332.74 648.27,332.77 648.73,332.81 649.18,332.84 649.62,332.87 650.08,332.9 650.52,332.93 650.98,332.96 651.43,332.98 651.88,333.01 652.33,333.03 652.77,333.05 653.23,333.07 653.68,333.09 654.12,333.11 654.58,333.12 655.02,333.13 655.48,333.15 655.93,333.16 656.38,333.16 656.83,333.17 657.27,333.18 657.73,333.18 658.18,333.19 658.62,333.19 659.08,333.2 659.52,333.2 659.98,333.2 660.43,333.2 660.88,333.2 661.33,333.2 661.77,333.2 662.23,333.2 662.68,333.2 663.12,333.2 663.58,333.2 664.02,333.2 664.48,333.2 664.93,333.2 665.38,333.2 665.83,333.2 666.27,333.2 666.73,333.2 667.18,333.2 667.62,333.2 668.08,333.2 668.52,333.2 668.98,333.2" stroke="#44e044" stroke-width="1.12" fill="none" stroke-linejoin="round"/>
<path d="M392.23,308 392.68,308 393.12,308 393.58,308 394.02,308 394.48,308 394.93,308 395.38,308 395.83,308 396.27,308 396.73,308 397.18,307.99 397.62,307.99 398.08,307.98 398.52,307.97 398.98,307.96 399.43,307.95 399.88,307.94 400.33,307.92 400.77,307.91 401.23,307.89 401.68,307.87 402.12,307.85 402.58,307.84 403.03,307.82 403.48,307.8 403.93,307.78 404.38,307.77 404.83,307.76 405.28,307.75 405.73,307.74 406.18,307.73 406.62,307.73 407.08,307.73 407.53,307.72 407.98,307.72 408.43,307.72 408.88,307.71 409.33,307.7 409.78,307.69 410.23,307.67 410.68,307.65 411.12,307.61 411.58,307.57 412.03,307.53 412.48,307.47 412.93,307.4 413.38,307.33 413.83,307.25 414.28,307.16 414.73,307.06 415.18,306.96 415.62,306.86 416.08,306.75 416.53,306.65 416.98,306.55 417.43,306.45 417.88,306.36 418.33,306.29 418.78,306.22 419.23,306.17 419.68,306.13 420.12,306.11 420.58,306.1 421.03,306.11 421.48,306.13 421.93,306.17 422.38,306.22 422.83,306.29 423.28,306.35 423.73,306.43 424.18,306.5 424.62,306.57 425.08,306.64 425.53,306.7 425.98,306.74 426.43,306.77 426.88,306.77 427.33,306.76 427.78,306.72 428.23,306.66 428.68,306.57 429.12,306.45 429.58,306.32 430.03,306.16 430.48,305.98 430.93,305.79 431.38,305.58 431.83,305.37 432.28,305.16 432.73,304.95 433.18,304.76 433.62,304.57 434.08,304.41 434.53,304.27 434.98,304.15 435.43,304.07 435.88,304.02 436.33,304 436.78,304.01 437.23,304.06 437.68,304.13 438.12,304.24 438.58,304.37 439.03,304.52 439.48,304.7 439.93,304.88 440.38,305.07 440.83,305.27 441.28,305.46 441.73,305.64 442.18,305.8 442.62,305.94 443.08,306.06 443.53,306.14 443.98,306.19 444.43,306.21 444.88,306.18 445.33,306.11 445.78,306 446.23,305.85 446.68,305.67 447.12,305.46 447.58,305.21 448.03,304.94 448.48,304.66 448.93,304.36 449.38,304.06 449.83,303.77 450.28,303.48 450.73,303.22 451.18,302.98 451.62,302.77 452.08,302.6 452.53,302.46 452.98,302.38 453.43,302.34 453.88,302.35 454.33,302.4 454.78,302.51 455.23,302.66 455.68,302.85 456.12,303.07 456.58,303.32 457.03,303.6 457.48,303.88 457.93,304.17 458.38,304.46 458.83,304.74 459.28,304.99 459.73,305.21 460.18,305.4 460.62,305.53 461.08,305.62 461.53,305.66 461.98,305.63 462.43,305.55 462.88,305.41 463.33,305.21 463.78,304.95 464.23,304.64 464.68,304.29 465.12,303.91 465.58,303.49 466.03,303.06 466.48,302.62 466.93,302.19 467.38,301.76 467.83,301.36 468.28,301 468.73,300.68 469.18,300.41 469.62,300.21 470.08,300.06 470.53,299.99 470.98,299.99 471.43,300.06 471.88,300.2 472.33,300.41 472.78,300.68 473.23,301 473.68,301.37 474.12,301.77 474.58,302.19 475.03,302.62 475.48,303.05 475.93,303.47 476.38,303.85 476.83,304.19 477.28,304.48 477.73,304.71 478.18,304.86 478.62,304.94 479.08,304.93 479.53,304.83 479.98,304.64 480.43,304.37 480.88,304.02 481.33,303.58 481.78,303.09 482.23,302.53 482.68,301.93 483.12,301.31 483.58,300.66 484.03,300.02 484.48,299.39 484.93,298.8 485.38,298.25 485.83,297.77 486.28,297.36 486.73,297.04 487.18,296.81 487.62,296.68 488.08,296.65 488.53,296.74 488.98,296.92 489.43,297.21 489.88,297.58 490.33,298.04 490.78,298.57 491.23,299.15 491.68,299.77 492.12,300.41 492.58,301.05 493.03,301.67 493.48,302.25 493.93,302.77 494.38,303.23 494.83,303.59 495.28,303.84 495.73,303.99 496.18,304.01 496.62,303.9 497.08,303.66 497.53,303.29 497.98,302.81 498.43,302.2 498.88,301.5 499.33,300.71 499.78,299.85 500.23,298.94 500.68,298.01 501.12,297.06 501.58,296.14 502.03,295.26 502.48,294.45 502.93,293.72 503.38,293.09 503.83,292.59 504.28,292.22 504.73,292 505.18,291.93 505.62,292.02 506.08,292.26 506.53,292.65 506.98,293.17 507.43,293.82 507.88,294.57 508.33,295.41 508.78,296.3 509.23,297.23 509.68,298.16 510.12,299.06 510.58,299.91 511.03,300.66 511.48,301.3 511.93,301.79 512.38,302.11 512.83,302.22 513.27,302.1 513.73,301.81 514.18,301.44 514.62,301 515.08,300.47 515.52,299.83 515.98,299.05 516.43,298.12 516.88,297.03 517.33,295.76 517.77,294.31 518.23,292.68 518.68,290.89 519.12,288.96 519.58,286.94 520.02,284.85 520.48,282.76 520.93,280.74 521.38,278.84 521.83,277.14 522.27,275.7 522.73,274.58 523.18,273.83 523.62,273.49 524.08,273.56 524.52,274.05 524.98,274.93 525.43,276.16 525.88,277.67 526.33,279.39 526.77,281.23 527.23,283.1 527.68,284.91 528.12,286.57 528.58,288.02 529.02,289.22 529.48,290.13 529.93,290.75 530.38,291.05 530.83,291.05 531.27,290.75 531.73,290.13 532.18,289.22 532.62,288.02 533.08,286.57 533.52,284.91 533.98,283.1 534.43,281.23 534.88,279.39 535.33,277.67 535.77,276.16 536.23,274.93 536.68,274.05 537.12,273.56 537.58,273.49 538.02,273.83 538.48,274.58 538.93,275.7 539.38,277.14 539.83,278.84 540.27,280.74 540.73,282.76 541.18,284.85 541.62,286.94 542.08,288.96 542.52,290.89 542.98,292.68 543.43,294.31 543.88,295.76 544.33,297.03 544.77,298.12 545.23,299.05 545.68,299.83 546.12,300.47 546.58,301 547.02,301.44 547.48,301.81 547.93,302.1 548.38,302.22 548.83,302.11 549.27,301.79 549.73,301.3 550.18,300.66 550.62,299.91 551.08,299.06 551.52,298.16 551.98,297.23 552.43,296.3 552.88,295.41 553.33,294.57 553.77,293.82 554.23,293.17 554.68,292.65 555.12,292.26 555.58,292.02 556.02,291.93 556.48,292 556.93,292.22 557.38,292.59 557.83,293.09 558.27,293.72 558.73,294.45 559.18,295.26 559.62,296.14 560.08,297.06 560.52,298.01 560.98,298.94 561.43,299.85 561.88,300.71 562.33,301.5 562.77,302.2 563.23,302.81 563.68,303.29 564.12,303.66 564.58,303.9 565.02,304.01 565.48,303.99 565.93,303.84 566.38,303.59 566.83,303.23 567.27,302.77 567.73,302.25 568.18,301.67 568.62,301.05 569.08,300.41 569.52,299.77 569.98,299.15 570.43,298.57 570.88,298.04 571.33,297.58 571.77,297.21 572.23,296.92 572.68,296.74 573.12,296.65 573.58,296.68 574.02,296.81 574.48,297.04 574.93,297.36 575.38,297.77 575.83,298.25 576.27,298.8 576.73,299.39 577.18,300.02 577.62,300.66 578.08,301.31 578.52,301.93 578.98,302.53 579.43,303.09 579.88,303.58 580.33,304.02 580.77,304.37 581.23,304.64 581.68,304.83 582.12,304.93 582.58,304.94 583.02,304.86 583.48,304.71 583.93,304.48 584.38,304.19 584.83,303.85 585.27,303.47 585.73,303.05 586.18,302.62 586.62,302.19 587.08,301.77 587.52,301.37 587.98,301 588.43,300.68 588.88,300.41 589.33,300.2 589.77,300.06 590.23,299.99 590.68,299.99 591.12,300.06 591.58,300.21 592.02,300.41 592.48,300.68 592.93,301 593.38,301.36 593.83,301.76 594.27,302.19 594.73,302.62 595.18,303.06 595.62,303.49 596.08,303.91 596.52,304.29 596.98,304.64 597.43,304.95 597.88,305.21 598.33,305.41 598.77,305.55 599.23,305.63 599.68,305.66 600.12,305.62 600.58,305.53 601.02,305.4 601.48,305.21 601.93,304.99 602.38,304.74 602.83,304.46 603.27,304.17 603.73,303.88 604.18,303.6 604.62,303.32 605.08,303.07 605.52,302.85 605.98,302.66 606.43,302.51 606.88,302.4 607.33,302.35 607.77,302.34 608.23,302.38 608.68,302.46 609.12,302.6 609.58,302.77 610.02,302.98 610.48,303.22 610.93,303.48 611.38,303.77 611.83,304.06 612.27,304.36 612.73,304.66 613.18,304.94 613.62,305.21 614.08,305.46 614.52,305.67 614.98,305.85 615.43,306 615.88,306.11 616.33,306.18 616.77,306.21 617.23,306.19 617.68,306.14 618.12,306.06 618.58,305.94 619.02,305.8 619.48,305.64 619.93,305.46 620.38,305.27 620.83,305.07 621.27,304.88 621.73,304.7 622.18,304.52 622.62,304.37 623.08,304.24 623.52,304.13 623.98,304.06 624.43,304.01 624.88,304 625.33,304.02 625.77,304.07 626.23,304.15 626.68,304.27 627.12,304.41 627.58,304.57 628.02,304.76 628.48,304.95 628.93,305.16 629.38,305.37 629.83,305.58 630.27,305.79 630.73,305.98 631.18,306.16 631.62,306.32 632.08,306.45 632.52,306.57 632.98,306.66 633.43,306.72 633.88,306.76 634.33,306.77 634.77,306.77 635.23,306.74 635.68,306.7 636.12,306.64 636.58,306.57 637.02,306.5 637.48,306.43 637.93,306.35 638.38,306.29 638.83,306.22 639.27,306.17 639.73,306.13 640.18,306.11 640.62,306.1 641.08,306.11 641.52,306.13 641.98,306.17 642.43,306.22 642.88,306.29 643.33,306.36 643.77,306.45 644.23,306.55 644.68,306.65 645.12,306.75 645.58,306.86 646.02,306.96 646.48,307.06 646.93,307.16 647.38,307.25 647.83,307.33 648.27,307.4 648.73,307.47 649.18,307.53 649.62,307.57 650.08,307.61 650.52,307.65 650.98,307.67 651.43,307.69 651.88,307.7 652.33,307.71 652.77,307.72 653.23,307.72 653.68,307.72 654.12,307.73 654.58,307.73 655.02,307.73 655.48,307.74 655.93,307.75 656.38,307.76 656.83,307.77 657.27,307.78 657.73,307.8 658.18,307.82 658.62,307.84 659.08,307.85 659.52,307.87 659.98,307.89 660.43,307.91 660.88,307.92 661.33,307.94 661.77,307.95 662.23,307.96 662.68,307.97 663.12,307.98 663.58,307.99 664.02,307.99 664.48,308 664.93,308 665.38,308 665.83,308 666.27,308 666.73,308 667.18,308 667.62,308 668.08,308 668.52,308 668.98,308" stroke="#ee44ee" stroke-width="1.12" fill="none" stroke-linejoin="round"/>
<path d="M392.23,284.1 392.68,284.1 393.12,284.1 393.58,284.1 394.02,284.1 394.48,284.1 394.93,284.1 395.38,284.1 395.83,284.1 396.27,284.1 396.73,284.1 397.18,284.09 397.62,284.09 398.08,284.08 398.52,284.07 398.98,284.05 399.43,284.04 399.88,284.02 400.33,283.99 400.77,283.97 401.23,283.94 401.68,283.92 402.12,283.89 402.58,283.87 403.03,283.85 403.48,283.83 403.93,283.82 404.38,283.81 404.83,283.8 405.28,283.81 405.73,283.82 406.18,283.83 406.62,283.85 407.08,283.87 407.53,283.89 407.98,283.92 408.43,283.94 408.88,283.96 409.33,283.97 409.78,283.98 410.23,283.97 410.68,283.95 411.12,283.92 411.58,283.87 412.03,283.81 412.48,283.72 412.93,283.62 413.38,283.5 413.83,283.37 414.28,283.22 414.73,283.06 415.18,282.89 415.62,282.71 416.08,282.54 416.53,282.37 416.98,282.21 417.43,282.06 417.88,281.93 418.33,281.82 418.78,281.73 419.23,281.68 419.68,281.65 420.12,281.66 420.58,281.69 421.03,281.76 421.48,281.87 421.93,281.99 422.38,282.15 422.83,282.32 423.28,282.5 423.73,282.69 424.18,282.89 424.62,283.07 425.08,283.25 425.53,283.4 425.98,283.52 426.43,283.62 426.88,283.67 427.33,283.68 427.78,283.64 428.23,283.56 428.68,283.43 429.12,283.26 429.58,283.04 430.03,282.79 430.48,282.5 430.93,282.19 431.38,281.86 431.83,281.52 432.28,281.18 432.73,280.85 433.18,280.54 433.62,280.25 434.08,279.99 434.53,279.77 434.98,279.6 435.43,279.48 435.88,279.41 436.33,279.4 436.78,279.45 437.23,279.55 437.68,279.71 438.12,279.91 438.58,280.16 439.03,280.45 439.48,280.77 439.93,281.11 440.38,281.46 440.83,281.81 441.28,282.16 441.73,282.48 442.18,282.78 442.62,283.04 443.08,283.26 443.53,283.42 443.98,283.52 444.43,283.56 444.88,283.53 445.33,283.44 445.78,283.27 446.23,283.05 446.68,282.76 447.12,282.42 447.58,282.03 448.03,281.6 448.48,281.15 448.93,280.68 449.38,280.21 449.83,279.75 450.28,279.3 450.73,278.89 451.18,278.52 451.62,278.2 452.08,277.95 452.53,277.76 452.98,277.65 453.43,277.61 453.88,277.66 454.33,277.78 454.78,277.98 455.23,278.25 455.68,278.59 456.12,278.98 456.58,279.41 457.03,279.88 457.48,280.37 457.93,280.87 458.38,281.35 458.83,281.82 459.28,282.25 459.73,282.63 460.18,282.94 460.62,283.19 461.08,283.35 461.53,283.43 461.98,283.42 462.43,283.31 462.88,283.1 463.33,282.81 463.78,282.43 464.23,281.97 464.68,281.44 465.12,280.86 465.58,280.24 466.03,279.59 466.48,278.93 466.93,278.28 467.38,277.65 467.83,277.07 468.28,276.53 468.73,276.07 469.18,275.69 469.62,275.41 470.08,275.22 470.53,275.15 470.98,275.19 471.43,275.33 471.88,275.59 472.33,275.94 472.78,276.39 473.23,276.92 473.68,277.51 474.12,278.16 474.58,278.83 475.03,279.52 475.48,280.21 475.93,280.87 476.38,281.48 476.83,282.03 477.28,282.5 477.73,282.87 478.18,283.13 478.62,283.26 479.08,283.28 479.53,283.16 479.98,282.91 480.43,282.53 480.88,282.03 481.33,281.41 481.78,280.7 482.23,279.91 482.68,279.06 483.12,278.16 483.58,277.24 484.03,276.33 484.48,275.45 484.93,274.61 485.38,273.85 485.83,273.18 486.28,272.62 486.73,272.19 487.18,271.9 487.62,271.76 488.08,271.77 488.53,271.94 488.98,272.26 489.43,272.72 489.88,273.31 490.33,274.02 490.78,274.83 491.23,275.72 491.68,276.65 492.12,277.61 492.58,278.57 493.03,279.5 493.48,280.38 493.93,281.17 494.38,281.85 494.83,282.4 495.28,282.8 495.73,283.04 496.18,283.1 496.62,282.98 497.08,282.68 497.53,282.19 497.98,281.54 498.43,280.72 498.88,279.77 499.33,278.69 499.78,277.52 500.23,276.29 500.68,275.02 501.12,273.74 501.58,272.5 502.03,271.32 502.48,270.23 502.93,269.26 503.38,268.45 503.83,267.8 504.28,267.35 504.73,267.1 505.18,267.06 505.62,267.24 506.08,267.64 506.53,268.23 506.98,269.01 507.43,269.97 507.88,271.06 508.33,272.27 508.78,273.56 509.23,274.89 509.68,276.22 510.12,277.52 510.58,278.74 511.03,279.85 511.48,280.8 511.93,281.55 512.38,282.06 512.83,282.3 513.27,282.24 513.73,281.92 514.18,281.48 514.62,280.9 515.08,280.12 515.52,279.13 515.98,277.86 516.43,276.31 516.88,274.45 517.33,272.27 517.77,269.79 518.23,267.07 518.68,264.16 519.12,261.17 519.58,258.21 520.02,255.42 520.48,252.94 520.93,250.9 521.38,249.42 521.83,248.58 522.27,248.46 522.73,249.04 523.18,250.31 523.62,252.18 524.08,254.56 524.52,257.3 524.98,260.29 525.43,263.36 525.88,266.41 526.33,269.31 526.77,271.98 527.23,274.36 527.68,276.42 528.12,278.15 528.58,279.54 529.02,280.62 529.48,281.41 529.93,281.92 530.38,282.17 530.83,282.17 531.27,281.92 531.73,281.41 532.18,280.62 532.62,279.54 533.08,278.15 533.52,276.42 533.98,274.36 534.43,271.98 534.88,269.31 535.33,266.41 535.77,263.36 536.23,260.29 536.68,257.3 537.12,254.56 537.58,252.18 538.02,250.31 538.48,249.04 538.93,248.46 539.38,248.58 539.83,249.42 540.27,250.9 540.73,252.94 541.18,255.42 541.62,258.21 542.08,261.17 542.52,264.16 542.98,267.07 543.43,269.79 543.88,272.27 544.33,274.45 544.77,276.31 545.23,277.86 545.68,279.13 546.12,280.12 546.58,280.9 547.02,281.48 547.48,281.92 547.93,282.24 548.38,282.3 548.83,282.06 549.27,281.55 549.73,280.8 550.18,279.85 550.62,278.74 551.08,277.52 551.52,276.22 551.98,274.89 552.43,273.56 552.88,272.27 553.33,271.06 553.77,269.97 554.23,269.01 554.68,268.23 555.12,267.64 555.58,267.24 556.02,267.06 556.48,267.1 556.93,267.35 557.38,267.8 557.83,268.45 558.27,269.26 558.73,270.23 559.18,271.32 559.62,272.5 560.08,273.74 560.52,275.02 560.98,276.29 561.43,277.52 561.88,278.69 562.33,279.77 562.77,280.72 563.23,281.54 563.68,282.19 564.12,282.68 564.58,282.98 565.02,283.1 565.48,283.04 565.93,282.8 566.38,282.4 566.83,281.85 567.27,281.17 567.73,280.38 568.18,279.5 568.62,278.57 569.08,277.61 569.52,276.65 569.98,275.72 570.43,274.83 570.88,274.02 571.33,273.31 571.77,272.72 572.23,272.26 572.68,271.94 573.12,271.77 573.58,271.76 574.02,271.9 574.48,272.19 574.93,272.62 575.38,273.18 575.83,273.85 576.27,274.61 576.73,275.45 577.18,276.33 577.62,277.24 578.08,278.16 578.52,279.06 578.98,279.91 579.43,280.7 579.88,281.41 580.33,282.03 580.77,282.53 581.23,282.91 581.68,283.16 582.12,283.28 582.58,283.26 583.02,283.13 583.48,282.87 583.93,282.5 584.38,282.03 584.83,281.48 585.27,280.87 585.73,280.21 586.18,279.52 586.62,278.83 587.08,278.16 587.52,277.51 587.98,276.92 588.43,276.39 588.88,275.94 589.33,275.59 589.77,275.33 590.23,275.19 590.68,275.15 591.12,275.22 591.58,275.41 592.02,275.69 592.48,276.07 592.93,276.53 593.38,277.07 593.83,277.65 594.27,278.28 594.73,278.93 595.18,279.59 595.62,280.24 596.08,280.86 596.52,281.44 596.98,281.97 597.43,282.43 597.88,282.81 598.33,283.1 598.77,283.31 599.23,283.42 599.68,283.43 600.12,283.35 600.58,283.19 601.02,282.94 601.48,282.63 601.93,282.25 602.38,281.82 602.83,281.35 603.27,280.87 603.73,280.37 604.18,279.88 604.62,279.41 605.08,278.98 605.52,278.59 605.98,278.25 606.43,277.98 606.88,277.78 607.33,277.66 607.77,277.61 608.23,277.65 608.68,277.76 609.12,277.95 609.58,278.2 610.02,278.52 610.48,278.89 610.93,279.3 611.38,279.75 611.83,280.21 612.27,280.68 612.73,281.15 613.18,281.6 613.62,282.03 614.08,282.42 614.52,282.76 614.98,283.05 615.43,283.27 615.88,283.44 616.33,283.53 616.77,283.56 617.23,283.52 617.68,283.42 618.12,283.26 618.58,283.04 619.02,282.78 619.48,282.48 619.93,282.16 620.38,281.81 620.83,281.46 621.27,281.11 621.73,280.77 622.18,280.45 622.62,280.16 623.08,279.91 623.52,279.71 623.98,279.55 624.43,279.45 624.88,279.4 625.33,279.41 625.77,279.48 626.23,279.6 626.68,279.77 627.12,279.99 627.58,280.25 628.02,280.54 628.48,280.85 628.93,281.18 629.38,281.52 629.83,281.86 630.27,282.19 630.73,282.5 631.18,282.79 631.62,283.04 632.08,283.26 632.52,283.43 632.98,283.56 633.43,283.64 633.88,283.68 634.33,283.67 634.77,283.62 635.23,283.52 635.68,283.4 636.12,283.25 636.58,283.07 637.02,282.89 637.48,282.69 637.93,282.5 638.38,282.32 638.83,282.15 639.27,281.99 639.73,281.87 640.18,281.76 640.62,281.69 641.08,281.66 641.52,281.65 641.98,281.68 642.43,281.73 642.88,281.82 643.33,281.93 643.77,282.06 644.23,282.21 644.68,282.37 645.12,282.54 645.58,282.71 646.02,282.89 646.48,283.06 646.93,283.22 647.38,283.37 647.83,283.5 648.27,283.62 648.73,283.72 649.18,283.81 649.62,283.87 650.08,283.92 650.52,283.95 650.98,283.97 651.43,283.98 651.88,283.97 652.33,283.96 652.77,283.94 653.23,283.92 653.68,283.89 654.12,283.87 654.58,283.85 655.02,283.83 655.48,283.82 655.93,283.81 656.38,283.8 656.83,283.81 657.27,283.82 657.73,283.83 658.18,283.85 658.62,283.87 659.08,283.89 659.52,283.92 659.98,283.94 660.43,283.97 660.88,283.99 661.33,284.02 661.77,284.04 662.23,284.05 662.68,284.07 663.12,284.08 663.58,284.09 664.02,284.09 664.48,284.1 664.93,284.1 665.38,284.1 665.83,284.1 666.27,284.1 666.73,284.1 667.18,284.1 667.62,284.1 668.08,284.1 668.52,284.1 668.98,284.1" stroke="#c4523e" stroke-width="1.12" fill="none" stroke-linejoin="round"/>
<path d="M392.23,255.4 392.67,255.4 393.12,255.4 393.57,255.4 394.02,255.4 394.47,255.39 394.92,255.39 395.37,255.38 395.82,255.38 396.27,255.36 396.72,255.35 397.17,255.33 397.62,255.31 398.07,255.29 398.52,255.26 398.97,255.23 399.42,255.2 399.87,255.17 400.32,255.13 400.77,255.1 401.22,255.07 401.67,255.04 402.12,255.01 402.57,254.99 403.02,254.98 403.47,254.97 403.92,254.97 404.37,254.97 404.82,254.98 405.27,255 405.72,255.02 406.17,255.04 406.62,255.07 407.07,255.09 407.52,255.12 407.97,255.13 408.42,255.15 408.87,255.15 409.32,255.14 409.77,255.12 410.22,255.08 410.67,255.02 411.12,254.95 411.57,254.85 412.02,254.74 412.47,254.61 412.92,254.47 413.37,254.31 413.81,254.14 414.26,253.96 414.71,253.78 415.16,253.6 415.61,253.42 416.06,253.25 416.51,253.1 416.96,252.96 417.41,252.84 417.86,252.75 418.31,252.69 418.76,252.66 419.21,252.66 419.66,252.69 420.11,252.75 420.56,252.85 421.01,252.97 421.46,253.11 421.91,253.27 422.36,253.45 422.81,253.63 423.26,253.82 423.71,254 424.16,254.17 424.61,254.31 425.06,254.43 425.51,254.52 425.96,254.57 426.41,254.58 426.86,254.55 427.31,254.47 427.76,254.35 428.21,254.18 428.66,253.97 429.11,253.72 429.56,253.44 430.01,253.13 430.46,252.8 430.91,252.47 431.36,252.13 431.81,251.8 432.26,251.49 432.71,251.2 433.16,250.95 433.61,250.73 434.06,250.55 434.51,250.43 434.95,250.35 435.4,250.33 435.85,250.37 436.3,250.45 436.75,250.6 437.2,250.79 437.65,251.02 438.1,251.29 438.55,251.59 439,251.92 439.45,252.25 439.9,252.59 440.35,252.92 440.8,253.24 441.25,253.53 441.7,253.78 442.15,253.99 442.6,254.15 443.05,254.26 443.5,254.3 443.95,254.28 444.4,254.2 444.85,254.05 445.3,253.84 445.75,253.57 446.2,253.25 446.65,252.89 447.1,252.49 447.55,252.06 448,251.61 448.45,251.16 448.9,250.72 449.35,250.29 449.8,249.9 450.25,249.54 450.7,249.23 451.15,248.97 451.6,248.78 452.05,248.66 452.5,248.62 452.95,248.64 453.4,248.75 453.85,248.92 454.3,249.16 454.75,249.46 455.2,249.82 455.65,250.22 456.09,250.65 456.54,251.1 456.99,251.56 457.44,252.02 457.89,252.45 458.34,252.86 458.79,253.22 459.24,253.52 459.69,253.76 460.14,253.92 460.59,254 461.04,254 461.49,253.91 461.94,253.73 462.39,253.47 462.84,253.13 463.29,252.72 463.74,252.24 464.19,251.71 464.64,251.14 465.09,250.54 465.54,249.93 465.99,249.32 466.44,248.74 466.89,248.19 467.34,247.69 467.79,247.25 468.24,246.88 468.69,246.6 469.14,246.42 469.59,246.33 470.04,246.34 470.49,246.45 470.94,246.66 471.39,246.97 471.84,247.36 472.29,247.82 472.74,248.35 473.19,248.92 473.64,249.53 474.09,250.16 474.54,250.78 474.99,251.37 475.44,251.93 475.89,252.44 476.34,252.87 476.79,253.22 477.23,253.47 477.68,253.61 478.13,253.64 478.58,253.55 479.03,253.35 479.48,253.02 479.93,252.59 480.38,252.05 480.83,251.43 481.28,250.73 481.73,249.97 482.18,249.17 482.63,248.35 483.08,247.52 483.53,246.72 483.98,245.97 484.43,245.27 484.88,244.65 485.33,244.13 485.78,243.72 486.23,243.43 486.68,243.28 487.13,243.26 487.58,243.37 488.03,243.62 488.48,244 488.93,244.5 489.38,245.11 489.83,245.8 490.28,246.57 490.73,247.38 491.18,248.22 491.63,249.07 492.08,249.89 492.53,250.66 492.98,251.37 493.43,251.98 493.88,252.49 494.33,252.86 494.78,253.1 495.23,253.18 495.68,253.1 496.13,252.87 496.58,252.47 497.03,251.92 497.48,251.24 497.93,250.42 498.37,249.5 498.82,248.49 499.27,247.42 499.72,246.32 500.17,245.21 500.62,244.12 501.07,243.07 501.52,242.1 501.97,241.24 502.42,240.5 502.87,239.9 503.32,239.47 503.77,239.21 504.22,239.14 504.67,239.25 505.12,239.54 505.57,240.01 506.02,240.64 506.47,241.42 506.92,242.33 507.37,243.34 507.82,244.42 508.27,245.55 508.72,246.67 509.17,247.77 509.62,248.8 510.07,249.72 510.52,250.49 510.97,251.07 511.42,251.42 511.87,251.49 512.32,251.25 512.77,250.69 513.22,249.94 513.67,248.98 514.12,247.78 514.57,246.31 515.02,244.56 515.47,242.54 515.92,240.26 516.37,237.77 516.82,235.13 517.27,232.45 517.72,229.81 518.17,227.36 518.62,225.2 519.07,223.45 519.51,222.22 519.96,221.57 520.41,221.54 520.86,222.14 521.31,223.33 521.76,225.02 522.21,227.14 522.66,229.55 523.11,232.15 523.56,234.8 524.01,237.39 524.46,239.85 524.91,242.09 525.36,244.09 525.81,245.8 526.26,247.23 526.71,248.4 527.16,249.33 527.61,250.04 528.06,250.58 528.51,250.96 528.96,251.23 529.41,251.41 529.86,251.51 530.31,251.55 530.76,251.55 531.21,251.53 531.66,251.44 532.11,251.29 532.56,251.05 533.01,250.7 533.46,250.21 533.91,249.56 534.36,248.7 534.81,247.6 535.26,246.24 535.71,244.61 536.16,242.7 536.61,240.53 537.06,238.13 537.51,235.56 537.96,232.92 538.41,230.3 538.86,227.82 539.31,225.6 539.76,223.77 540.21,222.43 540.65,221.65 541.1,221.5 541.55,221.97 542,223.03 542.45,224.64 542.9,226.69 543.35,229.08 543.8,231.67 544.25,234.35 544.7,237.01 545.15,239.55 545.6,241.9 546.05,244 546.5,245.83 546.95,247.38 547.4,248.66 547.85,249.69 548.3,250.49 548.75,251.11 549.2,251.46 549.65,251.47 550.1,251.2 550.55,250.68 551,249.96 551.45,249.08 551.9,248.08 552.35,247 552.8,245.87 553.25,244.75 553.7,243.65 554.15,242.62 554.6,241.68 555.05,240.86 555.5,240.18 555.95,239.66 556.4,239.31 556.85,239.15 557.3,239.17 557.75,239.38 558.2,239.76 558.65,240.31 559.1,241.01 559.55,241.84 560,242.78 560.45,243.81 560.9,244.89 561.35,246 561.79,247.11 562.24,248.19 562.69,249.22 563.14,250.17 563.59,251.01 564.04,251.74 564.49,252.33 564.94,252.77 565.39,253.05 565.84,253.17 566.29,253.14 566.74,252.95 567.19,252.61 567.64,252.14 568.09,251.56 568.54,250.88 568.99,250.12 569.44,249.31 569.89,248.47 570.34,247.62 570.79,246.8 571.24,246.02 571.69,245.3 572.14,244.67 572.59,244.14 573.04,243.72 573.49,243.43 573.94,243.28 574.39,243.26 574.84,243.37 575.29,243.62 575.74,244 576.19,244.49 576.64,245.08 577.09,245.76 577.54,246.5 577.99,247.29 578.44,248.11 578.89,248.93 579.34,249.74 579.79,250.51 580.24,251.23 580.69,251.88 581.14,252.44 581.59,252.91 582.04,253.26 582.49,253.5 582.93,253.63 583.38,253.63 583.83,253.52 584.28,253.3 584.73,252.98 585.18,252.57 585.63,252.09 586.08,251.54 586.53,250.95 586.98,250.34 587.43,249.71 587.88,249.1 588.33,248.51 588.78,247.97 589.23,247.48 589.68,247.07 590.13,246.74 590.58,246.5 591.03,246.36 591.48,246.32 591.93,246.38 592.38,246.54 592.83,246.79 593.28,247.13 593.73,247.55 594.18,248.04 594.63,248.58 595.08,249.15 595.53,249.75 595.98,250.36 596.43,250.96 596.88,251.54 597.33,252.09 597.78,252.58 598.23,253.02 598.68,253.38 599.13,253.67 599.58,253.87 600.03,253.98 600.48,254.01 600.93,253.95 601.38,253.81 601.83,253.6 602.28,253.31 602.73,252.97 603.18,252.58 603.63,252.15 604.07,251.7 604.52,251.24 604.97,250.78 605.42,250.34 605.87,249.93 606.32,249.56 606.77,249.24 607.22,248.98 607.67,248.79 608.12,248.67 608.57,248.62 609.02,248.64 609.47,248.74 609.92,248.91 610.37,249.15 610.82,249.44 611.27,249.79 611.72,250.17 612.17,250.59 612.62,251.03 613.07,251.48 613.52,251.93 613.97,252.37 614.42,252.78 614.87,253.15 615.32,253.49 615.77,253.77 616.22,254 616.67,254.16 617.12,254.27 617.57,254.3 618.02,254.28 618.47,254.19 618.92,254.05 619.37,253.85 619.82,253.61 620.27,253.33 620.72,253.02 621.17,252.69 621.62,252.35 622.07,252.01 622.52,251.69 622.97,251.38 623.42,251.1 623.87,250.85 624.32,250.65 624.77,250.49 625.21,250.39 625.66,250.33 626.11,250.34 626.56,250.4 627.01,250.51 627.46,250.67 627.91,250.88 628.36,251.12 628.81,251.4 629.26,251.71 629.71,252.03 630.16,252.37" stroke="#e04040" stroke-width="1.12" fill="none" stroke-linejoin="round"/>
<line x1="631.8" y1="210.6" x2="639" y2="210.6" stroke="#2c2ccc" stroke-width="1.2"/>
<text x="639.6" y="213.9" font-size="10.3" fill="#000" text-anchor="start" >10 nm</text>
<line x1="631.8" y1="222.5" x2="639" y2="222.5" stroke="#44e044" stroke-width="1.2"/>
<text x="639.6" y="225.8" font-size="10.3" fill="#000" text-anchor="start" >16 nm</text>
<line x1="631.8" y1="234.4" x2="639" y2="234.4" stroke="#ee44ee" stroke-width="1.2"/>
<text x="639.6" y="237.7" font-size="10.3" fill="#000" text-anchor="start" >20 nm</text>
<line x1="631.8" y1="246.3" x2="639" y2="246.3" stroke="#c4523e" stroke-width="1.2"/>
<text x="639.6" y="249.6" font-size="10.3" fill="#000" text-anchor="start" >30 nm</text>
<line x1="631.8" y1="258.2" x2="639" y2="258.2" stroke="#e04040" stroke-width="1.2"/>
<text x="639.6" y="261.5" font-size="10.3" fill="#000" text-anchor="start" >40 nm</text>
</svg>
</body></html>
